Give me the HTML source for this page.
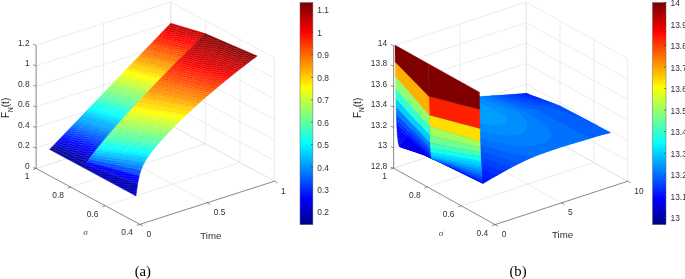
<!DOCTYPE html><html><head><meta charset="utf-8"><style>html,body{margin:0;padding:0;background:#fff;}svg{display:block;will-change:transform;font-family:"Liberation Sans",sans-serif;}</style></head><body><svg width="685" height="279" viewBox="0 0 685 279"><rect width="685" height="279" fill="#fff"/>
<line x1="36.11" y1="168.47" x2="170.78" y2="125.27" stroke="#d6d6d6" stroke-width="0.45"/>
<line x1="274.50" y1="181.17" x2="170.78" y2="125.27" stroke="#d6d6d6" stroke-width="0.45"/>
<line x1="36.11" y1="147.92" x2="170.78" y2="104.72" stroke="#d6d6d6" stroke-width="0.45"/>
<line x1="274.50" y1="160.62" x2="170.78" y2="104.72" stroke="#d6d6d6" stroke-width="0.45"/>
<line x1="36.11" y1="127.37" x2="170.78" y2="84.17" stroke="#d6d6d6" stroke-width="0.45"/>
<line x1="274.50" y1="140.07" x2="170.78" y2="84.17" stroke="#d6d6d6" stroke-width="0.45"/>
<line x1="36.11" y1="106.82" x2="170.78" y2="63.62" stroke="#d6d6d6" stroke-width="0.45"/>
<line x1="274.50" y1="119.52" x2="170.78" y2="63.62" stroke="#d6d6d6" stroke-width="0.45"/>
<line x1="36.11" y1="86.27" x2="170.78" y2="43.07" stroke="#d6d6d6" stroke-width="0.45"/>
<line x1="274.50" y1="98.97" x2="170.78" y2="43.07" stroke="#d6d6d6" stroke-width="0.45"/>
<line x1="36.11" y1="65.72" x2="170.78" y2="22.52" stroke="#d6d6d6" stroke-width="0.45"/>
<line x1="274.50" y1="78.42" x2="170.78" y2="22.52" stroke="#d6d6d6" stroke-width="0.45"/>
<line x1="36.11" y1="45.17" x2="170.78" y2="1.97" stroke="#d6d6d6" stroke-width="0.45"/>
<line x1="274.50" y1="57.87" x2="170.78" y2="1.97" stroke="#d6d6d6" stroke-width="0.45"/>
<line x1="36.11" y1="168.47" x2="36.11" y2="45.17" stroke="#d6d6d6" stroke-width="0.45"/>
<line x1="139.83" y1="224.37" x2="36.11" y2="168.47" stroke="#d6d6d6" stroke-width="0.45"/>
<line x1="103.44" y1="146.87" x2="103.44" y2="23.57" stroke="#d6d6d6" stroke-width="0.45"/>
<line x1="207.17" y1="202.77" x2="103.44" y2="146.87" stroke="#d6d6d6" stroke-width="0.45"/>
<line x1="170.78" y1="125.27" x2="170.78" y2="1.97" stroke="#d6d6d6" stroke-width="0.45"/>
<line x1="274.50" y1="181.17" x2="170.78" y2="125.27" stroke="#d6d6d6" stroke-width="0.45"/>
<line x1="274.50" y1="181.17" x2="274.50" y2="57.87" stroke="#d6d6d6" stroke-width="0.45"/>
<line x1="139.83" y1="224.37" x2="274.50" y2="181.17" stroke="#d6d6d6" stroke-width="0.45"/>
<line x1="239.93" y1="162.54" x2="239.93" y2="39.24" stroke="#d6d6d6" stroke-width="0.45"/>
<line x1="105.26" y1="205.74" x2="239.93" y2="162.54" stroke="#d6d6d6" stroke-width="0.45"/>
<line x1="205.35" y1="143.90" x2="205.35" y2="20.60" stroke="#d6d6d6" stroke-width="0.45"/>
<line x1="70.68" y1="187.10" x2="205.35" y2="143.90" stroke="#d6d6d6" stroke-width="0.45"/>
<line x1="170.78" y1="125.27" x2="170.78" y2="1.97" stroke="#d6d6d6" stroke-width="0.45"/>
<line x1="36.11" y1="168.47" x2="170.78" y2="125.27" stroke="#d6d6d6" stroke-width="0.45"/>
<polygon points="203.67,35.23 169.10,24.89 170.78,23.13 205.35,33.58" fill="#bf0000" stroke="#bf0000" stroke-width="0.35"/>
<polygon points="201.99,36.88 167.41,26.64 169.10,24.89 203.67,35.23" fill="#cf0000" stroke="#cf0000" stroke-width="0.35"/>
<polygon points="200.30,38.53 165.73,28.40 167.41,26.64 201.99,36.88" fill="#cf0000" stroke="#cf0000" stroke-width="0.35"/>
<polygon points="198.62,40.18 164.05,30.15 165.73,28.40 200.30,38.53" fill="#df0000" stroke="#df0000" stroke-width="0.35"/>
<polygon points="196.94,41.83 162.36,31.90 164.05,30.15 198.62,40.18" fill="#ef0000" stroke="#ef0000" stroke-width="0.35"/>
<polygon points="195.25,43.49 160.68,33.66 162.36,31.90 196.94,41.83" fill="#ff0000" stroke="#ff0000" stroke-width="0.35"/>
<polygon points="193.57,45.16 159.00,35.41 160.68,33.66 195.25,43.49" fill="#ff0000" stroke="#ff0000" stroke-width="0.35"/>
<polygon points="191.89,46.82 157.31,37.17 159.00,35.41 193.57,45.16" fill="#ff1000" stroke="#ff1000" stroke-width="0.35"/>
<polygon points="190.20,48.49 155.63,38.92 157.31,37.17 191.89,46.82" fill="#ff2000" stroke="#ff2000" stroke-width="0.35"/>
<polygon points="188.52,50.16 153.95,40.68 155.63,38.92 190.20,48.49" fill="#ff2000" stroke="#ff2000" stroke-width="0.35"/>
<polygon points="186.84,51.84 152.26,42.43 153.95,40.68 188.52,50.16" fill="#ff3000" stroke="#ff3000" stroke-width="0.35"/>
<polygon points="185.15,53.51 150.58,44.19 152.26,42.43 186.84,51.84" fill="#ff4000" stroke="#ff4000" stroke-width="0.35"/>
<polygon points="183.47,55.19 148.90,45.94 150.58,44.19 185.15,53.51" fill="#ff5000" stroke="#ff5000" stroke-width="0.35"/>
<polygon points="181.79,56.88 147.21,47.70 148.90,45.94 183.47,55.19" fill="#ff5000" stroke="#ff5000" stroke-width="0.35"/>
<polygon points="180.10,58.57 145.53,49.45 147.21,47.70 181.79,56.88" fill="#ff6000" stroke="#ff6000" stroke-width="0.35"/>
<polygon points="178.42,60.26 143.85,51.20 145.53,49.45 180.10,58.57" fill="#ff7000" stroke="#ff7000" stroke-width="0.35"/>
<polygon points="176.74,61.95 142.16,52.96 143.85,51.20 178.42,60.26" fill="#ff7000" stroke="#ff7000" stroke-width="0.35"/>
<polygon points="175.05,63.65 140.48,54.71 142.16,52.96 176.74,61.95" fill="#ff8000" stroke="#ff8000" stroke-width="0.35"/>
<polygon points="173.37,65.36 138.79,56.47 140.48,54.71 175.05,63.65" fill="#ff8f00" stroke="#ff8f00" stroke-width="0.35"/>
<polygon points="171.69,67.06 137.11,58.22 138.79,56.47 173.37,65.36" fill="#ff9f00" stroke="#ff9f00" stroke-width="0.35"/>
<polygon points="170.00,68.77 135.43,59.98 137.11,58.22 171.69,67.06" fill="#ff9f00" stroke="#ff9f00" stroke-width="0.35"/>
<polygon points="168.32,70.49 133.74,61.73 135.43,59.98 170.00,68.77" fill="#ffaf00" stroke="#ffaf00" stroke-width="0.35"/>
<polygon points="166.64,72.21 132.06,63.49 133.74,61.73 168.32,70.49" fill="#ffbf00" stroke="#ffbf00" stroke-width="0.35"/>
<polygon points="164.95,73.93 130.38,65.24 132.06,63.49 166.64,72.21" fill="#ffcf00" stroke="#ffcf00" stroke-width="0.35"/>
<polygon points="163.27,75.66 128.69,67.00 130.38,65.24 164.95,73.93" fill="#ffcf00" stroke="#ffcf00" stroke-width="0.35"/>
<polygon points="161.59,77.39 127.01,68.75 128.69,67.00 163.27,75.66" fill="#ffdf00" stroke="#ffdf00" stroke-width="0.35"/>
<polygon points="159.90,79.12 125.33,70.50 127.01,68.75 161.59,77.39" fill="#ffef00" stroke="#ffef00" stroke-width="0.35"/>
<polygon points="158.22,80.86 123.64,72.26 125.33,70.50 159.90,79.12" fill="#ffff00" stroke="#ffff00" stroke-width="0.35"/>
<polygon points="156.54,82.61 121.96,74.01 123.64,72.26 158.22,80.86" fill="#ffff00" stroke="#ffff00" stroke-width="0.35"/>
<polygon points="154.85,84.36 120.28,75.77 121.96,74.01 156.54,82.61" fill="#efff10" stroke="#efff10" stroke-width="0.35"/>
<polygon points="153.17,86.11 118.59,77.52 120.28,75.77 154.85,84.36" fill="#dfff20" stroke="#dfff20" stroke-width="0.35"/>
<polygon points="151.49,87.87 116.91,79.28 118.59,77.52 153.17,86.11" fill="#cfff30" stroke="#cfff30" stroke-width="0.35"/>
<polygon points="149.80,89.64 115.23,81.03 116.91,79.28 151.49,87.87" fill="#cfff30" stroke="#cfff30" stroke-width="0.35"/>
<polygon points="148.12,91.41 113.54,82.79 115.23,81.03 149.80,89.64" fill="#bfff40" stroke="#bfff40" stroke-width="0.35"/>
<polygon points="146.43,93.18 111.86,84.54 113.54,82.79 148.12,91.41" fill="#afff50" stroke="#afff50" stroke-width="0.35"/>
<polygon points="144.75,94.96 110.18,86.29 111.86,84.54 146.43,93.18" fill="#9fff60" stroke="#9fff60" stroke-width="0.35"/>
<polygon points="143.07,96.75 108.49,88.05 110.18,86.29 144.75,94.96" fill="#8fff70" stroke="#8fff70" stroke-width="0.35"/>
<polygon points="141.38,98.54 106.81,89.80 108.49,88.05 143.07,96.75" fill="#8fff70" stroke="#8fff70" stroke-width="0.35"/>
<polygon points="139.70,100.34 105.13,91.56 106.81,89.80 141.38,98.54" fill="#80ff80" stroke="#80ff80" stroke-width="0.35"/>
<polygon points="138.02,102.14 103.44,93.31 105.13,91.56 139.70,100.34" fill="#70ff8f" stroke="#70ff8f" stroke-width="0.35"/>
<polygon points="136.33,103.95 101.76,95.07 103.44,93.31 138.02,102.14" fill="#60ff9f" stroke="#60ff9f" stroke-width="0.35"/>
<polygon points="134.65,105.77 100.08,96.82 101.76,95.07 136.33,103.95" fill="#60ff9f" stroke="#60ff9f" stroke-width="0.35"/>
<polygon points="132.97,107.59 98.39,98.58 100.08,96.82 134.65,105.77" fill="#50ffaf" stroke="#50ffaf" stroke-width="0.35"/>
<polygon points="131.28,109.42 96.71,100.33 98.39,98.58 132.97,107.59" fill="#40ffbf" stroke="#40ffbf" stroke-width="0.35"/>
<polygon points="255.53,57.18 203.67,35.23 205.35,33.58 257.22,55.91" fill="#800000" stroke="#800000" stroke-width="0.35"/>
<polygon points="129.60,111.26 95.03,102.09 96.71,100.33 131.28,109.42" fill="#30ffcf" stroke="#30ffcf" stroke-width="0.35"/>
<polygon points="253.85,58.45 201.99,36.88 203.67,35.23 255.53,57.18" fill="#8f0000" stroke="#8f0000" stroke-width="0.35"/>
<polygon points="127.92,113.11 93.34,103.84 95.03,102.09 129.60,111.26" fill="#20ffdf" stroke="#20ffdf" stroke-width="0.35"/>
<polygon points="252.17,59.73 200.30,38.53 201.99,36.88 253.85,58.45" fill="#8f0000" stroke="#8f0000" stroke-width="0.35"/>
<polygon points="126.23,114.96 91.66,105.59 93.34,103.84 127.92,113.11" fill="#10ffef" stroke="#10ffef" stroke-width="0.35"/>
<polygon points="250.48,61.01 198.62,40.18 200.30,38.53 252.17,59.73" fill="#9f0000" stroke="#9f0000" stroke-width="0.35"/>
<polygon points="124.55,116.82 89.98,107.35 91.66,105.59 126.23,114.96" fill="#10ffef" stroke="#10ffef" stroke-width="0.35"/>
<polygon points="248.80,62.29 196.94,41.83 198.62,40.18 250.48,61.01" fill="#9f0000" stroke="#9f0000" stroke-width="0.35"/>
<polygon points="122.87,118.69 88.29,109.10 89.98,107.35 124.55,116.82" fill="#00ffff" stroke="#00ffff" stroke-width="0.35"/>
<polygon points="247.12,63.58 195.25,43.49 196.94,41.83 248.80,62.29" fill="#af0000" stroke="#af0000" stroke-width="0.35"/>
<polygon points="121.18,120.57 86.61,110.86 88.29,109.10 122.87,118.69" fill="#00efff" stroke="#00efff" stroke-width="0.35"/>
<polygon points="245.43,64.88 193.57,45.16 195.25,43.49 247.12,63.58" fill="#af0000" stroke="#af0000" stroke-width="0.35"/>
<polygon points="119.50,122.45 84.92,112.61 86.61,110.86 121.18,120.57" fill="#00dfff" stroke="#00dfff" stroke-width="0.35"/>
<polygon points="243.75,66.18 191.89,46.82 193.57,45.16 245.43,64.88" fill="#bf0000" stroke="#bf0000" stroke-width="0.35"/>
<polygon points="117.82,124.35 83.24,114.37 84.92,112.61 119.50,122.45" fill="#00cfff" stroke="#00cfff" stroke-width="0.35"/>
<polygon points="242.07,67.49 190.20,48.49 191.89,46.82 243.75,66.18" fill="#bf0000" stroke="#bf0000" stroke-width="0.35"/>
<polygon points="116.13,126.26 81.56,116.12 83.24,114.37 117.82,124.35" fill="#00bfff" stroke="#00bfff" stroke-width="0.35"/>
<polygon points="240.38,68.80 188.52,50.16 190.20,48.49 242.07,67.49" fill="#cf0000" stroke="#cf0000" stroke-width="0.35"/>
<polygon points="114.45,128.17 79.87,117.88 81.56,116.12 116.13,126.26" fill="#00afff" stroke="#00afff" stroke-width="0.35"/>
<polygon points="238.70,70.12 186.84,51.84 188.52,50.16 240.38,68.80" fill="#cf0000" stroke="#cf0000" stroke-width="0.35"/>
<polygon points="112.77,130.10 78.19,119.63 79.87,117.88 114.45,128.17" fill="#00afff" stroke="#00afff" stroke-width="0.35"/>
<polygon points="237.02,71.44 185.15,53.51 186.84,51.84 238.70,70.12" fill="#cf0000" stroke="#cf0000" stroke-width="0.35"/>
<polygon points="111.08,132.04 76.51,121.38 78.19,119.63 112.77,130.10" fill="#009fff" stroke="#009fff" stroke-width="0.35"/>
<polygon points="235.33,72.77 183.47,55.19 185.15,53.51 237.02,71.44" fill="#df0000" stroke="#df0000" stroke-width="0.35"/>
<polygon points="109.40,133.99 74.82,123.14 76.51,121.38 111.08,132.04" fill="#008fff" stroke="#008fff" stroke-width="0.35"/>
<polygon points="233.65,74.10 181.79,56.88 183.47,55.19 235.33,72.77" fill="#df0000" stroke="#df0000" stroke-width="0.35"/>
<polygon points="107.72,135.95 73.14,124.89 74.82,123.14 109.40,133.99" fill="#0080ff" stroke="#0080ff" stroke-width="0.35"/>
<polygon points="231.97,75.45 180.10,58.57 181.79,56.88 233.65,74.10" fill="#ef0000" stroke="#ef0000" stroke-width="0.35"/>
<polygon points="106.03,137.92 71.46,126.65 73.14,124.89 107.72,135.95" fill="#0070ff" stroke="#0070ff" stroke-width="0.35"/>
<polygon points="230.28,76.79 178.42,60.26 180.10,58.57 231.97,75.45" fill="#ef0000" stroke="#ef0000" stroke-width="0.35"/>
<polygon points="104.35,139.91 69.77,128.40 71.46,126.65 106.03,137.92" fill="#0060ff" stroke="#0060ff" stroke-width="0.35"/>
<polygon points="228.60,78.15 176.74,61.95 178.42,60.26 230.28,76.79" fill="#ff0000" stroke="#ff0000" stroke-width="0.35"/>
<polygon points="102.67,141.92 68.09,130.16 69.77,128.40 104.35,139.91" fill="#0050ff" stroke="#0050ff" stroke-width="0.35"/>
<polygon points="226.92,79.51 175.05,63.65 176.74,61.95 228.60,78.15" fill="#ff1000" stroke="#ff1000" stroke-width="0.35"/>
<polygon points="100.98,143.94 66.41,131.91 68.09,130.16 102.67,141.92" fill="#0040ff" stroke="#0040ff" stroke-width="0.35"/>
<polygon points="225.23,80.87 173.37,65.36 175.05,63.65 226.92,79.51" fill="#ff1000" stroke="#ff1000" stroke-width="0.35"/>
<polygon points="99.30,145.99 64.72,133.67 66.41,131.91 100.98,143.94" fill="#0030ff" stroke="#0030ff" stroke-width="0.35"/>
<polygon points="223.55,82.25 171.69,67.06 173.37,65.36 225.23,80.87" fill="#ff2000" stroke="#ff2000" stroke-width="0.35"/>
<polygon points="97.62,148.05 63.04,135.42 64.72,133.67 99.30,145.99" fill="#0020ff" stroke="#0020ff" stroke-width="0.35"/>
<polygon points="221.87,83.63 170.00,68.77 171.69,67.06 223.55,82.25" fill="#ff2000" stroke="#ff2000" stroke-width="0.35"/>
<polygon points="95.93,150.15 61.36,137.18 63.04,135.42 97.62,148.05" fill="#0010ff" stroke="#0010ff" stroke-width="0.35"/>
<polygon points="220.18,85.01 168.32,70.49 170.00,68.77 221.87,83.63" fill="#ff3000" stroke="#ff3000" stroke-width="0.35"/>
<polygon points="94.25,152.28 59.67,138.93 61.36,137.18 95.93,150.15" fill="#0000ff" stroke="#0000ff" stroke-width="0.35"/>
<polygon points="218.50,86.41 166.64,72.21 168.32,70.49 220.18,85.01" fill="#ff3000" stroke="#ff3000" stroke-width="0.35"/>
<polygon points="92.56,154.46 57.99,140.68 59.67,138.93 94.25,152.28" fill="#0000ef" stroke="#0000ef" stroke-width="0.35"/>
<polygon points="216.82,87.81 164.95,73.93 166.64,72.21 218.50,86.41" fill="#ff4000" stroke="#ff4000" stroke-width="0.35"/>
<polygon points="90.88,156.73 56.31,142.44 57.99,140.68 92.56,154.46" fill="#0000df" stroke="#0000df" stroke-width="0.35"/>
<polygon points="215.13,89.22 163.27,75.66 164.95,73.93 216.82,87.81" fill="#ff4000" stroke="#ff4000" stroke-width="0.35"/>
<polygon points="89.20,159.11 54.62,144.19 56.31,142.44 90.88,156.73" fill="#0000cf" stroke="#0000cf" stroke-width="0.35"/>
<polygon points="213.45,90.64 161.59,77.39 163.27,75.66 215.13,89.22" fill="#ff5000" stroke="#ff5000" stroke-width="0.35"/>
<polygon points="87.51,161.70 52.94,145.95 54.62,144.19 89.20,159.11" fill="#0000bf" stroke="#0000bf" stroke-width="0.35"/>
<polygon points="211.76,92.06 159.90,79.12 161.59,77.39 213.45,90.64" fill="#ff5000" stroke="#ff5000" stroke-width="0.35"/>
<polygon points="85.83,164.61 51.26,147.70 52.94,145.95 87.51,161.70" fill="#00009f" stroke="#00009f" stroke-width="0.35"/>
<polygon points="210.08,93.50 158.22,80.86 159.90,79.12 211.76,92.06" fill="#ff6000" stroke="#ff6000" stroke-width="0.35"/>
<polygon points="84.15,168.09 49.57,149.46 51.26,147.70 85.83,164.61" fill="#0000a0" stroke="#0000a0" stroke-width="0.35"/>
<polygon points="208.40,94.94 156.54,82.61 158.22,80.86 210.08,93.50" fill="#ff7000" stroke="#ff7000" stroke-width="0.35"/>
<polygon points="206.71,96.39 154.85,84.36 156.54,82.61 208.40,94.94" fill="#ff7000" stroke="#ff7000" stroke-width="0.35"/>
<polygon points="205.03,97.86 153.17,86.11 154.85,84.36 206.71,96.39" fill="#ff8000" stroke="#ff8000" stroke-width="0.35"/>
<polygon points="203.35,99.33 151.49,87.87 153.17,86.11 205.03,97.86" fill="#ff8000" stroke="#ff8000" stroke-width="0.35"/>
<polygon points="201.66,100.81 149.80,89.64 151.49,87.87 203.35,99.33" fill="#ff8f00" stroke="#ff8f00" stroke-width="0.35"/>
<polygon points="199.98,102.30 148.12,91.41 149.80,89.64 201.66,100.81" fill="#ff8f00" stroke="#ff8f00" stroke-width="0.35"/>
<polygon points="198.30,103.80 146.43,93.18 148.12,91.41 199.98,102.30" fill="#ff9f00" stroke="#ff9f00" stroke-width="0.35"/>
<polygon points="196.61,105.31 144.75,94.96 146.43,93.18 198.30,103.80" fill="#ffaf00" stroke="#ffaf00" stroke-width="0.35"/>
<polygon points="194.93,106.83 143.07,96.75 144.75,94.96 196.61,105.31" fill="#ffaf00" stroke="#ffaf00" stroke-width="0.35"/>
<polygon points="193.25,108.37 141.38,98.54 143.07,96.75 194.93,106.83" fill="#ffbf00" stroke="#ffbf00" stroke-width="0.35"/>
<polygon points="191.56,109.91 139.70,100.34 141.38,98.54 193.25,108.37" fill="#ffcf00" stroke="#ffcf00" stroke-width="0.35"/>
<polygon points="189.88,111.47 138.02,102.14 139.70,100.34 191.56,109.91" fill="#ffcf00" stroke="#ffcf00" stroke-width="0.35"/>
<polygon points="188.20,113.04 136.33,103.95 138.02,102.14 189.88,111.47" fill="#ffdf00" stroke="#ffdf00" stroke-width="0.35"/>
<polygon points="186.51,114.63 134.65,105.77 136.33,103.95 188.20,113.04" fill="#ffdf00" stroke="#ffdf00" stroke-width="0.35"/>
<polygon points="184.83,116.22 132.97,107.59 134.65,105.77 186.51,114.63" fill="#ffef00" stroke="#ffef00" stroke-width="0.35"/>
<polygon points="183.15,117.84 131.28,109.42 132.97,107.59 184.83,116.22" fill="#ffff00" stroke="#ffff00" stroke-width="0.35"/>
<polygon points="181.46,119.47 129.60,111.26 131.28,109.42 183.15,117.84" fill="#ffff00" stroke="#ffff00" stroke-width="0.35"/>
<polygon points="179.78,121.11 127.92,113.11 129.60,111.26 181.46,119.47" fill="#efff10" stroke="#efff10" stroke-width="0.35"/>
<polygon points="178.10,122.77 126.23,114.96 127.92,113.11 179.78,121.11" fill="#dfff20" stroke="#dfff20" stroke-width="0.35"/>
<polygon points="176.41,124.45 124.55,116.82 126.23,114.96 178.10,122.77" fill="#cfff30" stroke="#cfff30" stroke-width="0.35"/>
<polygon points="174.73,126.14 122.87,118.69 124.55,116.82 176.41,124.45" fill="#cfff30" stroke="#cfff30" stroke-width="0.35"/>
<polygon points="173.05,127.85 121.18,120.57 122.87,118.69 174.73,126.14" fill="#bfff40" stroke="#bfff40" stroke-width="0.35"/>
<polygon points="171.36,129.59 119.50,122.45 121.18,120.57 173.05,127.85" fill="#afff50" stroke="#afff50" stroke-width="0.35"/>
<polygon points="169.68,131.34 117.82,124.35 119.50,122.45 171.36,129.59" fill="#9fff60" stroke="#9fff60" stroke-width="0.35"/>
<polygon points="168.00,133.12 116.13,126.26 117.82,124.35 169.68,131.34" fill="#9fff60" stroke="#9fff60" stroke-width="0.35"/>
<polygon points="166.31,134.92 114.45,128.17 116.13,126.26 168.00,133.12" fill="#8fff70" stroke="#8fff70" stroke-width="0.35"/>
<polygon points="164.63,136.74 112.77,130.10 114.45,128.17 166.31,134.92" fill="#80ff80" stroke="#80ff80" stroke-width="0.35"/>
<polygon points="162.95,138.59 111.08,132.04 112.77,130.10 164.63,136.74" fill="#70ff8f" stroke="#70ff8f" stroke-width="0.35"/>
<polygon points="161.26,140.47 109.40,133.99 111.08,132.04 162.95,138.59" fill="#60ff9f" stroke="#60ff9f" stroke-width="0.35"/>
<polygon points="159.58,142.38 107.72,135.95 109.40,133.99 161.26,140.47" fill="#60ff9f" stroke="#60ff9f" stroke-width="0.35"/>
<polygon points="157.89,144.32 106.03,137.92 107.72,135.95 159.58,142.38" fill="#50ffaf" stroke="#50ffaf" stroke-width="0.35"/>
<polygon points="156.21,146.31 104.35,139.91 106.03,137.92 157.89,144.32" fill="#40ffbf" stroke="#40ffbf" stroke-width="0.35"/>
<polygon points="154.53,148.33 102.67,141.92 104.35,139.91 156.21,146.31" fill="#30ffcf" stroke="#30ffcf" stroke-width="0.35"/>
<polygon points="152.84,150.41 100.98,143.94 102.67,141.92 154.53,148.33" fill="#20ffdf" stroke="#20ffdf" stroke-width="0.35"/>
<polygon points="151.16,152.56 99.30,145.99 100.98,143.94 152.84,150.41" fill="#10ffef" stroke="#10ffef" stroke-width="0.35"/>
<polygon points="149.48,154.80 97.62,148.05 99.30,145.99 151.16,152.56" fill="#00ffff" stroke="#00ffff" stroke-width="0.35"/>
<polygon points="147.79,157.16 95.93,150.15 97.62,148.05 149.48,154.80" fill="#00efff" stroke="#00efff" stroke-width="0.35"/>
<polygon points="146.11,159.72 94.25,152.28 95.93,150.15 147.79,157.16" fill="#00cfff" stroke="#00cfff" stroke-width="0.35"/>
<polygon points="144.43,162.58 92.56,154.46 94.25,152.28 146.11,159.72" fill="#00bfff" stroke="#00bfff" stroke-width="0.35"/>
<polygon points="142.74,165.93 90.88,156.73 92.56,154.46 144.43,162.58" fill="#009fff" stroke="#009fff" stroke-width="0.35"/>
<polygon points="141.06,170.12 89.20,159.11 90.88,156.73 142.74,165.93" fill="#0080ff" stroke="#0080ff" stroke-width="0.35"/>
<polygon points="139.38,175.71 87.51,161.70 89.20,159.11 141.06,170.12" fill="#0050ff" stroke="#0050ff" stroke-width="0.35"/>
<polygon points="137.69,183.75 85.83,164.61 87.51,161.70 139.38,175.71" fill="#0000ff" stroke="#0000ff" stroke-width="0.35"/>
<polygon points="136.01,196.04 84.15,168.09 85.83,164.61 137.69,183.75" fill="#0000b8" stroke="#0000b8" stroke-width="0.35"/>
<defs><clipPath id="clA"><polygon points="136.01,196.04 137.69,183.75 139.38,175.71 141.06,170.12 142.74,165.93 144.43,162.58 146.11,159.72 147.79,157.16 149.48,154.80 151.16,152.56 152.84,150.41 154.53,148.33 156.21,146.31 157.89,144.32 159.58,142.38 161.26,140.47 162.95,138.59 164.63,136.74 166.31,134.92 168.00,133.12 169.68,131.34 171.36,129.59 173.05,127.85 174.73,126.14 176.41,124.45 178.10,122.77 179.78,121.11 181.46,119.47 183.15,117.84 184.83,116.22 186.51,114.63 188.20,113.04 189.88,111.47 191.56,109.91 193.25,108.37 194.93,106.83 196.61,105.31 198.30,103.80 199.98,102.30 201.66,100.81 203.35,99.33 205.03,97.86 206.71,96.39 208.40,94.94 210.08,93.50 211.76,92.06 213.45,90.64 215.13,89.22 216.82,87.81 218.50,86.41 220.18,85.01 221.87,83.63 223.55,82.25 225.23,80.87 226.92,79.51 228.60,78.15 230.28,76.79 231.97,75.45 233.65,74.10 235.33,72.77 237.02,71.44 238.70,70.12 240.38,68.80 242.07,67.49 243.75,66.18 245.43,64.88 247.12,63.58 248.80,62.29 250.48,61.01 252.17,59.73 253.85,58.45 255.53,57.18 257.22,55.91 205.35,33.58 170.78,23.13 170.78,23.13 169.10,24.89 167.41,26.64 165.73,28.40 164.05,30.15 162.36,31.90 160.68,33.66 159.00,35.41 157.31,37.17 155.63,38.92 153.95,40.68 152.26,42.43 150.58,44.19 148.90,45.94 147.21,47.70 145.53,49.45 143.85,51.20 142.16,52.96 140.48,54.71 138.79,56.47 137.11,58.22 135.43,59.98 133.74,61.73 132.06,63.49 130.38,65.24 128.69,67.00 127.01,68.75 125.33,70.50 123.64,72.26 121.96,74.01 120.28,75.77 118.59,77.52 116.91,79.28 115.23,81.03 113.54,82.79 111.86,84.54 110.18,86.29 108.49,88.05 106.81,89.80 105.13,91.56 103.44,93.31 101.76,95.07 100.08,96.82 98.39,98.58 96.71,100.33 95.03,102.09 93.34,103.84 91.66,105.59 89.98,107.35 88.29,109.10 86.61,110.86 84.92,112.61 83.24,114.37 81.56,116.12 79.87,117.88 78.19,119.63 76.51,121.38 74.82,123.14 73.14,124.89 71.46,126.65 69.77,128.40 68.09,130.16 66.41,131.91 64.72,133.67 63.04,135.42 61.36,137.18 59.67,138.93 57.99,140.68 56.31,142.44 54.62,144.19 52.94,145.95 51.26,147.70 49.57,149.46 84.15,168.09"/></clipPath><pattern id="stA" patternUnits="userSpaceOnUse" width="40" height="2.10" patternTransform="rotate(5.0)"><rect x="0" y="0" width="40" height="0.95" fill="#fff" fill-opacity="0.10"/></pattern></defs>
<rect x="30" y="0" width="250" height="200" fill="url(#stA)" clip-path="url(#clA)"/>
<line x1="36.11" y1="168.47" x2="36.11" y2="45.17" stroke="#4a4a4a" stroke-width="0.60"/>
<line x1="139.83" y1="224.37" x2="36.11" y2="168.47" stroke="#4a4a4a" stroke-width="0.60"/>
<line x1="139.83" y1="224.37" x2="274.50" y2="181.17" stroke="#4a4a4a" stroke-width="0.60"/>
<line x1="36.11" y1="168.47" x2="33.11" y2="167.57" stroke="#4a4a4a" stroke-width="0.60"/>
<text x="29.61" y="168.88" font-size="8.40" text-anchor="end" fill="#303030">0</text>
<line x1="36.11" y1="147.92" x2="33.11" y2="147.02" stroke="#4a4a4a" stroke-width="0.60"/>
<text x="29.61" y="148.33" font-size="8.40" text-anchor="end" fill="#303030">0.2</text>
<line x1="36.11" y1="127.37" x2="33.11" y2="126.47" stroke="#4a4a4a" stroke-width="0.60"/>
<text x="29.61" y="127.78" font-size="8.40" text-anchor="end" fill="#303030">0.4</text>
<line x1="36.11" y1="106.82" x2="33.11" y2="105.92" stroke="#4a4a4a" stroke-width="0.60"/>
<text x="29.61" y="107.23" font-size="8.40" text-anchor="end" fill="#303030">0.6</text>
<line x1="36.11" y1="86.27" x2="33.11" y2="85.37" stroke="#4a4a4a" stroke-width="0.60"/>
<text x="29.61" y="86.68" font-size="8.40" text-anchor="end" fill="#303030">0.8</text>
<line x1="36.11" y1="65.72" x2="33.11" y2="64.82" stroke="#4a4a4a" stroke-width="0.60"/>
<text x="29.61" y="66.13" font-size="8.40" text-anchor="end" fill="#303030">1</text>
<line x1="36.11" y1="45.17" x2="33.11" y2="44.27" stroke="#4a4a4a" stroke-width="0.60"/>
<text x="29.61" y="45.58" font-size="8.40" text-anchor="end" fill="#303030">1.2</text>
<line x1="139.83" y1="224.37" x2="136.69" y2="225.38" stroke="#4a4a4a" stroke-width="0.60"/>
<text x="133.03" y="235.38" font-size="8.40" text-anchor="end" fill="#303030">0.4</text>
<line x1="105.26" y1="205.74" x2="102.11" y2="206.74" stroke="#4a4a4a" stroke-width="0.60"/>
<text x="98.46" y="216.74" font-size="8.40" text-anchor="end" fill="#303030">0.6</text>
<line x1="70.68" y1="187.10" x2="67.54" y2="188.11" stroke="#4a4a4a" stroke-width="0.60"/>
<text x="63.88" y="198.11" font-size="8.40" text-anchor="end" fill="#303030">0.8</text>
<line x1="36.11" y1="168.47" x2="32.96" y2="169.48" stroke="#4a4a4a" stroke-width="0.60"/>
<text x="29.31" y="179.48" font-size="8.40" text-anchor="end" fill="#303030">1</text>
<line x1="139.83" y1="224.37" x2="142.91" y2="226.03" stroke="#4a4a4a" stroke-width="0.60"/>
<text x="146.43" y="236.78" font-size="8.40" text-anchor="start" fill="#303030">0</text>
<line x1="207.17" y1="202.77" x2="210.25" y2="204.43" stroke="#4a4a4a" stroke-width="0.60"/>
<text x="213.77" y="215.18" font-size="8.40" text-anchor="start" fill="#303030">0.5</text>
<line x1="274.50" y1="181.17" x2="277.59" y2="182.83" stroke="#4a4a4a" stroke-width="0.60"/>
<text x="281.11" y="193.58" font-size="8.40" text-anchor="start" fill="#303030">1</text>
<line x1="393.64" y1="168.15" x2="526.22" y2="124.80" stroke="#d6d6d6" stroke-width="0.45"/>
<line x1="627.64" y1="181.25" x2="526.22" y2="124.80" stroke="#d6d6d6" stroke-width="0.45"/>
<line x1="393.64" y1="147.72" x2="526.22" y2="104.37" stroke="#d6d6d6" stroke-width="0.45"/>
<line x1="627.64" y1="160.82" x2="526.22" y2="104.37" stroke="#d6d6d6" stroke-width="0.45"/>
<line x1="393.64" y1="127.28" x2="526.22" y2="83.93" stroke="#d6d6d6" stroke-width="0.45"/>
<line x1="627.64" y1="140.38" x2="526.22" y2="83.93" stroke="#d6d6d6" stroke-width="0.45"/>
<line x1="393.64" y1="106.85" x2="526.22" y2="63.50" stroke="#d6d6d6" stroke-width="0.45"/>
<line x1="627.64" y1="119.95" x2="526.22" y2="63.50" stroke="#d6d6d6" stroke-width="0.45"/>
<line x1="393.64" y1="86.42" x2="526.22" y2="43.07" stroke="#d6d6d6" stroke-width="0.45"/>
<line x1="627.64" y1="99.52" x2="526.22" y2="43.07" stroke="#d6d6d6" stroke-width="0.45"/>
<line x1="393.64" y1="65.98" x2="526.22" y2="22.63" stroke="#d6d6d6" stroke-width="0.45"/>
<line x1="627.64" y1="79.08" x2="526.22" y2="22.63" stroke="#d6d6d6" stroke-width="0.45"/>
<line x1="393.64" y1="45.55" x2="526.22" y2="2.20" stroke="#d6d6d6" stroke-width="0.45"/>
<line x1="627.64" y1="58.65" x2="526.22" y2="2.20" stroke="#d6d6d6" stroke-width="0.45"/>
<line x1="393.64" y1="168.15" x2="393.64" y2="45.55" stroke="#d6d6d6" stroke-width="0.45"/>
<line x1="495.07" y1="224.60" x2="393.64" y2="168.15" stroke="#d6d6d6" stroke-width="0.45"/>
<line x1="459.93" y1="146.47" x2="459.93" y2="23.87" stroke="#d6d6d6" stroke-width="0.45"/>
<line x1="561.36" y1="202.92" x2="459.93" y2="146.47" stroke="#d6d6d6" stroke-width="0.45"/>
<line x1="526.22" y1="124.80" x2="526.22" y2="2.20" stroke="#d6d6d6" stroke-width="0.45"/>
<line x1="627.64" y1="181.25" x2="526.22" y2="124.80" stroke="#d6d6d6" stroke-width="0.45"/>
<line x1="627.64" y1="181.25" x2="627.64" y2="58.65" stroke="#d6d6d6" stroke-width="0.45"/>
<line x1="495.07" y1="224.60" x2="627.64" y2="181.25" stroke="#d6d6d6" stroke-width="0.45"/>
<line x1="593.84" y1="162.43" x2="593.84" y2="39.83" stroke="#d6d6d6" stroke-width="0.45"/>
<line x1="461.26" y1="205.78" x2="593.84" y2="162.43" stroke="#d6d6d6" stroke-width="0.45"/>
<line x1="560.03" y1="143.62" x2="560.03" y2="21.02" stroke="#d6d6d6" stroke-width="0.45"/>
<line x1="427.45" y1="186.97" x2="560.03" y2="143.62" stroke="#d6d6d6" stroke-width="0.45"/>
<line x1="526.22" y1="124.80" x2="526.22" y2="2.20" stroke="#d6d6d6" stroke-width="0.45"/>
<line x1="393.64" y1="168.15" x2="526.22" y2="124.80" stroke="#d6d6d6" stroke-width="0.45"/>
<polygon points="484.13,182.80 486.04,181.65 487.95,180.53 489.86,179.43 491.77,178.37 493.68,177.32 495.58,176.26 497.49,175.19 499.40,174.11 501.31,173.02 503.22,171.93 505.13,170.84 507.04,169.76 508.94,168.70 510.85,167.66 512.76,166.64 514.67,165.66 516.58,164.71 518.49,163.78 520.40,162.85 522.31,161.92 524.21,161.00 526.12,160.09 528.03,159.21 529.94,158.34 531.85,157.51 533.76,156.70 535.67,155.94 537.57,155.22 539.48,154.53 541.39,153.85 543.30,153.17 545.21,152.50 547.12,151.83 549.03,151.16 550.94,150.50 552.84,149.85 554.75,149.20 556.66,148.56 558.57,147.93 560.48,147.31 562.39,146.70 564.30,146.10 566.20,145.52 568.11,144.94 570.02,144.37 571.93,143.80 573.84,143.23 575.75,142.67 577.66,142.11 579.57,141.54 581.47,140.96 583.38,140.39 585.29,139.81 587.20,139.23 589.11,138.64 591.02,138.07 592.93,137.49 594.84,136.92 596.74,136.35 598.65,135.79 600.56,135.24 602.47,134.70 604.38,134.19 606.29,133.72 608.20,133.28 610.10,132.85 609.31,131.95 605.01,129.67 600.71,127.39 596.42,125.11 592.12,122.83 587.82,120.56 583.52,118.28 579.22,116.00 574.93,113.72 570.63,111.44 566.33,109.16 562.03,106.88 557.74,104.97 553.44,103.38 549.14,101.80 544.84,100.21 540.55,98.62 536.25,97.04 531.95,95.45 527.65,93.86 525.58,93.39 523.68,93.55 521.77,93.71 519.86,93.87 517.95,94.02 516.04,94.17 514.13,94.31 512.22,94.45 510.31,94.59 508.41,94.71 506.50,94.84 504.59,94.96 502.68,95.08 500.77,95.20 498.86,95.32 496.95,95.45 495.04,95.58 493.14,95.70 491.23,95.82 489.32,95.93 487.41,96.06 485.50,96.19 483.59,96.35 481.68,96.54 479.78,96.76 477.87,96.98 475.96,97.17 474.05,97.37 472.14,97.61 470.23,97.92 468.32,98.33 466.41,98.89 464.51,99.52 462.60,100.14 460.69,100.76 458.78,101.39 456.87,102.01 454.96,102.64 453.05,103.26 451.15,103.95 449.24,104.72 447.33,105.58 445.42,106.51 443.51,107.49 441.60,108.53 439.69,109.60 437.78,110.70 435.88,111.81 433.97,112.93 432.06,114.07 430.15,115.28 428.24,116.57 426.33,117.93 424.42,119.37 422.52,120.88 420.61,122.46 418.70,124.12 416.79,125.84 414.88,127.64 412.97,129.53 411.06,131.80 409.15,134.39 407.25,137.11 405.34,139.77 403.43,142.21 401.52,144.53 399.61,146.79 402.48,147.71 406.77,149.09 411.07,150.46 415.37,151.84 419.67,153.22 423.96,154.60 428.26,155.98 432.56,157.36 436.86,159.34 441.16,161.47 445.45,163.61 449.75,165.74 454.05,167.87 458.35,170.00 462.64,172.13 466.94,174.27 471.24,176.40 475.54,178.53 479.83,180.66 484.13,182.80" fill="#0060ff"/>
<path d="M403.95,148.12 L402.92,147.19 L402.41,146.73 L401.88,146.26 L400.84,145.34 L400.25,146.04 L399.61,146.79 L401.04,147.25 L402.48,147.71 L403.91,148.17 L404.05,148.21 L403.95,148.12Z" fill="#00009f" stroke="#00009f" stroke-width="0.4" stroke-linejoin="round" fill-rule="evenodd"/>
<path d="M410.03,149.55 L409.41,148.99 L409.00,148.62 L407.97,147.69 L407.76,147.50 L406.93,146.76 L406.06,146.00 L405.88,145.84 L404.84,144.92 L404.32,144.47 L403.78,144.00 L402.72,143.08 L402.16,143.76 L401.52,144.53 L400.88,145.29 L400.84,145.34 L401.88,146.26 L402.41,146.73 L402.92,147.19 L403.95,148.12 L404.05,148.21 L405.34,148.63 L406.77,149.09 L408.21,149.55 L409.64,150.01 L411.04,150.46 L410.03,149.55Z" fill="#0000af" stroke="#0000af" stroke-width="0.4" stroke-linejoin="round" fill-rule="evenodd"/>
<path d="M417.15,151.90 L416.42,151.24 L416.12,150.97 L415.09,150.04 L414.79,149.77 L414.06,149.11 L413.13,148.29 L413.02,148.19 L411.98,147.26 L411.45,146.78 L410.94,146.34 L409.89,145.41 L409.71,145.25 L408.83,144.49 L407.90,143.68 L407.77,143.58 L406.70,142.66 L405.99,142.06 L405.61,141.75 L404.52,140.84 L404.06,141.42 L403.43,142.21 L402.79,142.99 L402.72,143.08 L403.78,144.00 L404.32,144.47 L404.84,144.92 L405.88,145.84 L406.06,146.00 L406.93,146.76 L407.76,147.50 L407.97,147.69 L409.00,148.62 L409.41,148.99 L410.03,149.55 L411.04,150.46 L411.07,150.46 L412.50,150.92 L413.94,151.38 L415.37,151.84 L416.80,152.30 L418.03,152.70 L417.15,151.90Z" fill="#0000bf" stroke="#0000bf" stroke-width="0.4" stroke-linejoin="round" fill-rule="evenodd"/>
<path d="M424.27,154.25 L423.42,153.49 L423.24,153.32 L422.22,152.39 L421.82,152.03 L421.19,151.46 L420.20,150.57 L420.16,150.53 L419.13,149.60 L418.57,149.10 L418.10,148.68 L417.06,147.75 L416.90,147.61 L416.02,146.83 L415.18,146.09 L414.97,145.90 L413.91,144.98 L413.39,144.53 L412.84,144.07 L411.77,143.15 L411.47,142.90 L410.67,142.25 L409.56,141.34 L409.32,141.14 L408.44,140.45 L407.30,139.55 L406.87,139.22 L406.14,138.66 L405.97,138.90 L405.34,139.77 L404.70,140.61 L404.52,140.84 L405.61,141.75 L405.99,142.06 L406.70,142.66 L407.77,143.58 L407.90,143.68 L408.83,144.49 L409.71,145.25 L409.89,145.41 L410.94,146.34 L411.45,146.78 L411.98,147.26 L413.02,148.19 L413.13,148.29 L414.06,149.11 L414.79,149.77 L415.09,150.04 L416.12,150.97 L416.42,151.24 L417.15,151.90 L418.03,152.70 L418.23,152.76 L419.67,153.22 L421.10,153.68 L422.53,154.14 L423.96,154.60 L425.02,154.94 L424.27,154.25Z" fill="#0000cf" stroke="#0000cf" stroke-width="0.4" stroke-linejoin="round" fill-rule="evenodd"/>
<path d="M431.38,156.61 L430.43,155.74 L430.36,155.68 L429.34,154.74 L428.85,154.30 L428.32,153.81 L427.30,152.88 L427.28,152.86 L426.28,151.95 L425.69,151.42 L425.25,151.02 L424.23,150.09 L424.10,149.97 L423.20,149.16 L422.47,148.50 L422.17,148.23 L421.13,147.30 L420.80,147.01 L420.08,146.38 L419.03,145.46 L419.03,145.46 L417.95,144.55 L417.09,143.82 L416.87,143.63 L415.76,142.73 L414.93,142.05 L414.65,141.83 L413.51,140.93 L412.48,140.13 L412.37,140.04 L411.21,139.16 L410.04,138.27 L409.69,138.01 L408.85,137.39 L407.66,136.52 L407.25,137.11 L406.61,138.01 L406.14,138.66 L406.87,139.22 L407.30,139.55 L408.44,140.45 L409.32,141.14 L409.56,141.34 L410.67,142.25 L411.47,142.90 L411.77,143.15 L412.84,144.07 L413.39,144.53 L413.91,144.98 L414.97,145.90 L415.18,146.09 L416.02,146.83 L416.90,147.61 L417.06,147.75 L418.10,148.68 L418.57,149.10 L419.13,149.60 L420.16,150.53 L420.20,150.57 L421.19,151.46 L421.82,152.03 L422.22,152.39 L423.24,153.32 L423.42,153.49 L424.27,154.25 L425.02,154.94 L425.40,155.06 L426.83,155.52 L428.26,155.98 L429.69,156.44 L431.13,156.90 L432.01,157.18 L431.38,156.61Z" fill="#0000df" stroke="#0000df" stroke-width="0.4" stroke-linejoin="round" fill-rule="evenodd"/>
<path d="M454.16,167.76 L452.87,166.92 L451.57,166.08 L450.26,165.24 L448.95,164.41 L448.86,164.35 L447.63,163.57 L446.31,162.74 L444.98,161.91 L443.65,161.08 L442.31,160.25 L440.97,159.42 L440.64,159.21 L439.63,158.59 L438.28,157.77 L436.93,156.94 L435.58,156.12 L434.43,155.23 L434.35,155.15 L433.42,154.29 L432.82,153.74 L432.41,153.36 L431.40,152.42 L431.29,152.33 L430.39,151.49 L429.76,150.91 L429.37,150.55 L428.36,149.62 L428.20,149.48 L427.33,148.69 L426.59,148.02 L426.30,147.76 L425.25,146.84 L424.87,146.50 L424.19,145.92 L423.12,145.01 L422.98,144.89 L422.03,144.10 L420.92,143.19 L420.89,143.16 L419.81,142.29 L418.67,141.40 L418.53,141.29 L417.52,140.51 L416.36,139.62 L415.83,139.22 L415.18,138.74 L414.00,137.86 L412.80,136.99 L412.73,136.94 L411.60,136.11 L410.38,135.25 L409.19,134.40 L409.16,134.38 L409.15,134.39 L408.52,135.29 L407.88,136.20 L407.66,136.52 L408.85,137.39 L409.69,138.01 L410.04,138.27 L411.21,139.16 L412.37,140.04 L412.48,140.13 L413.51,140.93 L414.65,141.83 L414.93,142.05 L415.76,142.73 L416.87,143.63 L417.09,143.82 L417.95,144.55 L419.03,145.46 L419.03,145.46 L420.08,146.38 L420.80,147.01 L421.13,147.30 L422.17,148.23 L422.47,148.50 L423.20,149.16 L424.10,149.97 L424.23,150.09 L425.25,151.02 L425.69,151.42 L426.28,151.95 L427.28,152.86 L427.30,152.88 L428.32,153.81 L428.85,154.30 L429.34,154.74 L430.36,155.68 L430.43,155.74 L431.38,156.61 L432.01,157.18 L432.56,157.36 L433.99,157.92 L435.42,158.63 L436.86,159.34 L438.29,160.05 L439.72,160.76 L441.16,161.47 L442.59,162.18 L444.02,162.89 L445.45,163.61 L446.89,164.32 L448.32,165.03 L449.75,165.74 L451.18,166.45 L452.62,167.16 L454.05,167.87 L455.18,168.43 L454.16,167.76Z" fill="#0000ef" stroke="#0000ef" stroke-width="0.4" stroke-linejoin="round" fill-rule="evenodd"/>
<path d="M481.50,181.23 L480.32,180.35 L479.57,179.80 L479.12,179.47 L477.91,178.60 L476.67,177.74 L475.75,177.11 L475.42,176.88 L474.16,176.03 L472.89,175.18 L471.60,174.34 L470.54,173.65 L470.31,173.49 L469.00,172.65 L467.69,171.82 L466.37,170.98 L465.05,170.15 L463.72,169.32 L463.19,168.99 L462.38,168.49 L461.04,167.66 L459.69,166.84 L458.34,166.01 L456.99,165.19 L455.63,164.37 L454.27,163.55 L452.90,162.73 L452.34,162.39 L451.54,161.91 L450.17,161.09 L448.80,160.28 L447.42,159.46 L446.04,158.64 L444.66,157.83 L443.28,157.02 L441.90,156.20 L440.51,155.39 L439.12,154.58 L437.73,153.77 L437.42,153.48 L436.58,152.88 L435.60,151.95 L435.59,151.94 L434.59,151.00 L434.15,150.58 L433.59,150.06 L432.64,149.18 L432.58,149.12 L431.56,148.19 L431.04,147.72 L430.52,147.26 L429.47,146.34 L429.30,146.20 L428.40,145.43 L427.38,144.56 L427.32,144.52 L426.22,143.61 L425.18,142.78 L425.10,142.71 L423.96,141.82 L422.81,140.93 L422.66,140.81 L421.65,140.04 L420.47,139.16 L419.77,138.64 L419.28,138.28 L418.09,137.41 L416.88,136.54 L416.47,136.24 L415.67,135.67 L414.45,134.80 L413.22,133.94 L412.74,133.61 L411.98,133.07 L410.75,132.21 L410.43,132.63 L409.79,133.50 L409.16,134.38 L409.19,134.40 L410.38,135.25 L411.60,136.11 L412.73,136.94 L412.80,136.99 L414.00,137.86 L415.18,138.74 L415.83,139.22 L416.36,139.62 L417.52,140.51 L418.53,141.29 L418.67,141.40 L419.81,142.29 L420.89,143.16 L420.92,143.19 L422.03,144.10 L422.98,144.89 L423.12,145.01 L424.19,145.92 L424.87,146.50 L425.25,146.84 L426.30,147.76 L426.59,148.02 L427.33,148.69 L428.20,149.48 L428.36,149.62 L429.37,150.55 L429.76,150.91 L430.39,151.49 L431.29,152.33 L431.40,152.42 L432.41,153.36 L432.82,153.74 L433.42,154.29 L434.35,155.15 L434.43,155.23 L435.58,156.12 L436.93,156.94 L438.28,157.77 L439.63,158.59 L440.64,159.21 L440.97,159.42 L442.31,160.25 L443.65,161.08 L444.98,161.91 L446.31,162.74 L447.63,163.57 L448.86,164.35 L448.95,164.41 L450.26,165.24 L451.57,166.08 L452.87,166.92 L454.16,167.76 L455.18,168.43 L455.48,168.58 L456.91,169.29 L458.35,170.00 L459.78,170.71 L461.21,171.42 L462.64,172.13 L464.08,172.84 L465.51,173.56 L466.94,174.27 L468.37,174.98 L469.81,175.69 L471.24,176.40 L472.67,177.11 L474.10,177.82 L475.54,178.53 L476.97,179.24 L478.40,179.95 L479.83,180.66 L481.27,181.37 L482.44,181.96 L481.50,181.23Z" fill="#0000ff" stroke="#0000ff" stroke-width="0.4" stroke-linejoin="round" fill-rule="evenodd"/>
<path d="M484.77,182.41 L485.40,182.03 L486.04,181.65 L486.68,181.27 L487.31,180.90 L487.95,180.53 L488.59,180.16 L489.22,179.80 L489.86,179.43 L490.10,179.30 L488.68,178.50 L487.26,177.70 L485.84,176.89 L484.42,176.09 L482.99,175.29 L481.57,174.49 L480.14,173.69 L478.72,172.89 L477.29,172.09 L475.87,171.29 L474.44,170.50 L473.01,169.70 L471.58,168.90 L470.16,168.10 L468.73,167.30 L467.30,166.50 L465.87,165.70 L464.44,164.90 L463.01,164.10 L461.59,163.31 L460.16,162.51 L458.73,161.71 L457.30,160.91 L455.87,160.11 L454.44,159.31 L453.01,158.52 L451.58,157.72 L450.15,156.92 L448.72,156.12 L447.29,155.32 L445.86,154.53 L444.43,153.73 L443.00,152.93 L441.56,152.13 L440.13,151.33 L439.20,150.60 L438.98,150.45 L438.00,149.50 L437.71,149.23 L437.01,148.56 L436.22,147.84 L435.99,147.63 L434.95,146.70 L434.53,146.34 L433.89,145.78 L432.81,144.87 L432.59,144.69 L431.70,143.97 L430.58,143.07 L430.35,142.89 L429.45,142.17 L428.29,141.28 L427.78,140.89 L427.13,140.40 L425.96,139.51 L424.85,138.70 L424.77,138.64 L423.58,137.76 L422.37,136.89 L421.55,136.30 L421.16,136.02 L419.95,135.15 L418.73,134.28 L417.92,133.72 L417.50,133.42 L416.28,132.55 L415.04,131.69 L414.04,130.99 L413.81,130.83 L412.58,129.96 L412.34,130.24 L411.70,131.00 L411.06,131.80 L410.75,132.21 L411.98,133.07 L412.74,133.61 L413.22,133.94 L414.45,134.80 L415.67,135.67 L416.47,136.24 L416.88,136.54 L418.09,137.41 L419.28,138.28 L419.77,138.64 L420.47,139.16 L421.65,140.04 L422.66,140.81 L422.81,140.93 L423.96,141.82 L425.10,142.71 L425.18,142.78 L426.22,143.61 L427.32,144.52 L427.38,144.56 L428.40,145.43 L429.30,146.20 L429.47,146.34 L430.52,147.26 L431.04,147.72 L431.56,148.19 L432.58,149.12 L432.64,149.18 L433.59,150.06 L434.15,150.58 L434.59,151.00 L435.59,151.94 L435.60,151.95 L436.58,152.88 L437.42,153.48 L437.73,153.77 L439.12,154.58 L440.51,155.39 L441.90,156.20 L443.28,157.02 L444.66,157.83 L446.04,158.64 L447.42,159.46 L448.80,160.28 L450.17,161.09 L451.54,161.91 L452.34,162.39 L452.90,162.73 L454.27,163.55 L455.63,164.37 L456.99,165.19 L458.34,166.01 L459.69,166.84 L461.04,167.66 L462.38,168.49 L463.19,168.99 L463.72,169.32 L465.05,170.15 L466.37,170.98 L467.69,171.82 L469.00,172.65 L470.31,173.49 L470.54,173.65 L471.60,174.34 L472.89,175.18 L474.16,176.03 L475.42,176.88 L475.75,177.11 L476.67,177.74 L477.91,178.60 L479.12,179.47 L479.57,179.80 L480.32,180.35 L481.50,181.23 L482.44,181.96 L482.70,182.08 L484.13,182.80 L484.77,182.41Z M527.59,94.14 L529.01,94.36 L527.65,93.86 L526.22,93.33 L525.58,93.39 L524.95,93.44 L524.31,93.50 L524.05,93.52 L524.67,93.63 L526.15,93.89 L526.56,93.96 L527.59,94.14Z" fill="#0010ff" stroke="#0010ff" stroke-width="0.4" stroke-linejoin="round" fill-rule="evenodd"/>
<path d="M490.49,179.08 L491.13,178.72 L491.77,178.37 L492.40,178.02 L493.04,177.67 L493.68,177.32 L494.31,176.97 L494.95,176.61 L495.58,176.26 L496.22,175.91 L496.86,175.55 L497.31,175.29 L495.62,174.58 L494.22,173.97 L493.95,173.86 L492.30,173.14 L490.65,172.41 L489.36,171.83 L489.02,171.68 L487.39,170.94 L485.78,170.20 L484.17,169.46 L483.70,169.24 L482.58,168.72 L480.99,167.97 L479.41,167.22 L477.84,166.47 L476.87,166.01 L476.27,165.72 L474.72,164.96 L473.17,164.20 L471.62,163.44 L470.08,162.68 L468.54,161.92 L468.28,161.79 L467.01,161.15 L465.49,160.38 L463.96,159.62 L462.45,158.85 L460.93,158.08 L459.42,157.30 L457.91,156.53 L456.88,156.00 L456.41,155.76 L454.91,154.98 L453.41,154.21 L451.91,153.43 L450.42,152.65 L448.92,151.88 L447.44,151.10 L445.95,150.32 L444.46,149.54 L442.98,148.76 L441.78,147.88 L440.93,147.13 L440.74,146.96 L439.68,146.04 L439.09,145.54 L438.60,145.13 L437.49,144.22 L436.95,143.79 L436.37,143.32 L435.24,142.43 L434.51,141.86 L434.09,141.54 L432.93,140.65 L431.75,139.77 L431.75,139.77 L430.58,138.89 L429.39,138.01 L428.73,137.53 L428.20,137.13 L427.01,136.25 L425.82,135.38 L425.55,135.19 L424.62,134.50 L423.43,133.63 L422.37,132.86 L422.23,132.76 L421.04,131.88 L419.84,131.01 L419.12,130.49 L418.63,130.14 L417.43,129.27 L416.21,128.40 L415.65,128.00 L415.00,127.53 L414.88,127.64 L414.24,128.26 L413.61,128.88 L412.97,129.53 L412.58,129.96 L413.81,130.83 L414.04,130.99 L415.04,131.69 L416.28,132.55 L417.50,133.42 L417.92,133.72 L418.73,134.28 L419.95,135.15 L421.16,136.02 L421.55,136.30 L422.37,136.89 L423.58,137.76 L424.77,138.64 L424.85,138.70 L425.96,139.51 L427.13,140.40 L427.78,140.89 L428.29,141.28 L429.45,142.17 L430.35,142.89 L430.58,143.07 L431.70,143.97 L432.59,144.69 L432.81,144.87 L433.89,145.78 L434.53,146.34 L434.95,146.70 L435.99,147.63 L436.22,147.84 L437.01,148.56 L437.71,149.23 L438.00,149.50 L438.98,150.45 L439.20,150.60 L440.13,151.33 L441.56,152.13 L443.00,152.93 L444.43,153.73 L445.86,154.53 L447.29,155.32 L448.72,156.12 L450.15,156.92 L451.58,157.72 L453.01,158.52 L454.44,159.31 L455.87,160.11 L457.30,160.91 L458.73,161.71 L460.16,162.51 L461.59,163.31 L463.01,164.10 L464.44,164.90 L465.87,165.70 L467.30,166.50 L468.73,167.30 L470.16,168.10 L471.58,168.90 L473.01,169.70 L474.44,170.50 L475.87,171.29 L477.29,172.09 L478.72,172.89 L480.14,173.69 L481.57,174.49 L482.99,175.29 L484.42,176.09 L485.84,176.89 L487.26,177.70 L488.68,178.50 L490.10,179.30 L490.49,179.08Z M537.81,97.61 L537.68,97.56 L536.25,97.04 L534.82,96.51 L533.38,95.98 L531.95,95.45 L530.52,94.92 L529.09,94.39 L529.01,94.36 L527.59,94.14 L526.56,93.96 L526.15,93.89 L524.67,93.63 L524.05,93.52 L523.68,93.55 L523.04,93.60 L522.40,93.66 L521.77,93.71 L521.13,93.76 L520.49,93.81 L519.86,93.87 L519.22,93.92 L518.59,93.97 L517.95,94.02 L517.34,94.07 L518.96,94.43 L519.64,94.58 L520.61,94.78 L522.00,95.07 L522.22,95.12 L523.80,95.43 L524.41,95.55 L525.33,95.73 L526.84,96.00 L526.88,96.01 L528.31,96.26 L529.41,96.45 L529.75,96.50 L531.17,96.72 L532.03,96.86 L532.55,96.93 L533.90,97.12 L534.74,97.24 L535.23,97.30 L536.53,97.46 L537.55,97.58 L537.81,97.61Z" fill="#0020ff" stroke="#0020ff" stroke-width="0.4" stroke-linejoin="round" fill-rule="evenodd"/>
<path d="M497.49,175.19 L498.13,174.83 L498.76,174.47 L499.40,174.11 L500.04,173.74 L500.67,173.38 L501.31,173.02 L501.95,172.65 L502.58,172.29 L503.22,171.93 L503.85,171.56 L504.09,171.43 L502.99,171.03 L502.27,170.76 L500.47,170.08 L499.91,169.87 L498.67,169.40 L496.89,168.72 L496.68,168.64 L495.12,168.03 L493.36,167.34 L493.30,167.32 L491.62,166.65 L489.88,165.95 L489.71,165.88 L488.15,165.25 L486.44,164.54 L485.89,164.32 L484.73,163.84 L483.04,163.12 L481.78,162.59 L481.35,162.41 L479.68,161.69 L478.01,160.97 L477.31,160.67 L476.35,160.25 L474.70,159.52 L473.06,158.79 L472.40,158.50 L471.43,158.06 L469.80,157.32 L468.19,156.59 L466.93,156.02 L466.57,155.85 L464.97,155.11 L463.37,154.36 L461.78,153.62 L460.75,153.14 L460.19,152.87 L458.61,152.12 L457.04,151.37 L455.47,150.62 L453.90,149.87 L453.63,149.74 L452.34,149.11 L450.79,148.35 L449.24,147.60 L447.69,146.84 L446.14,146.08 L444.87,145.23 L443.76,144.32 L443.43,144.06 L442.64,143.42 L441.51,142.53 L441.04,142.17 L440.37,141.63 L439.22,140.74 L438.52,140.20 L438.07,139.85 L436.92,138.97 L435.86,138.16 L435.76,138.08 L434.59,137.19 L433.42,136.31 L433.03,136.02 L432.24,135.43 L431.06,134.55 L430.02,133.78 L429.87,133.68 L428.68,132.80 L427.48,131.93 L426.78,131.42 L426.28,131.05 L425.07,130.18 L423.85,129.31 L423.30,128.92 L422.64,128.45 L421.42,127.58 L420.19,126.72 L419.55,126.27 L418.96,125.85 L417.72,124.99 L417.43,125.26 L416.79,125.84 L416.15,126.43 L415.52,127.03 L415.00,127.53 L415.65,128.00 L416.21,128.40 L417.43,129.27 L418.63,130.14 L419.12,130.49 L419.84,131.01 L421.04,131.88 L422.23,132.76 L422.37,132.86 L423.43,133.63 L424.62,134.50 L425.55,135.19 L425.82,135.38 L427.01,136.25 L428.20,137.13 L428.73,137.53 L429.39,138.01 L430.58,138.89 L431.75,139.77 L431.75,139.77 L432.93,140.65 L434.09,141.54 L434.51,141.86 L435.24,142.43 L436.37,143.32 L436.95,143.79 L437.49,144.22 L438.60,145.13 L439.09,145.54 L439.68,146.04 L440.74,146.96 L440.93,147.13 L441.78,147.88 L442.98,148.76 L444.46,149.54 L445.95,150.32 L447.44,151.10 L448.92,151.88 L450.42,152.65 L451.91,153.43 L453.41,154.21 L454.91,154.98 L456.41,155.76 L456.88,156.00 L457.91,156.53 L459.42,157.30 L460.93,158.08 L462.45,158.85 L463.96,159.62 L465.49,160.38 L467.01,161.15 L468.28,161.79 L468.54,161.92 L470.08,162.68 L471.62,163.44 L473.17,164.20 L474.72,164.96 L476.27,165.72 L476.87,166.01 L477.84,166.47 L479.41,167.22 L480.99,167.97 L482.58,168.72 L483.70,169.24 L484.17,169.46 L485.78,170.20 L487.39,170.94 L489.02,171.68 L489.36,171.83 L490.65,172.41 L492.30,173.14 L493.95,173.86 L494.22,173.97 L495.62,174.58 L497.31,175.29 L497.49,175.19Z M546.60,100.86 L546.28,100.74 L544.84,100.21 L543.41,99.68 L541.98,99.15 L540.55,98.62 L539.11,98.09 L537.81,97.61 L537.55,97.58 L536.53,97.46 L535.23,97.30 L534.74,97.24 L533.90,97.12 L532.55,96.93 L532.03,96.86 L531.17,96.72 L529.75,96.50 L529.41,96.45 L528.31,96.26 L526.88,96.01 L526.84,96.00 L525.33,95.73 L524.41,95.55 L523.80,95.43 L522.22,95.12 L522.00,95.07 L520.61,94.78 L519.64,94.58 L518.96,94.43 L517.34,94.07 L517.31,94.07 L516.68,94.12 L516.04,94.17 L515.40,94.22 L514.77,94.26 L514.13,94.31 L513.50,94.36 L512.86,94.41 L512.22,94.45 L511.59,94.50 L510.95,94.54 L510.82,94.55 L511.24,94.67 L512.94,95.12 L513.18,95.19 L515.07,95.68 L515.10,95.68 L516.90,96.13 L517.30,96.23 L518.68,96.56 L519.54,96.76 L520.41,96.96 L521.83,97.28 L522.10,97.34 L523.74,97.69 L524.17,97.78 L525.34,98.02 L526.56,98.26 L526.91,98.33 L528.43,98.62 L529.02,98.72 L529.92,98.88 L531.38,99.13 L531.56,99.16 L532.80,99.36 L534.18,99.57 L534.19,99.57 L535.55,99.77 L536.88,99.95 L536.89,99.95 L538.19,100.11 L539.46,100.26 L539.73,100.29 L540.71,100.39 L541.94,100.51 L542.70,100.58 L543.14,100.62 L544.31,100.71 L545.47,100.79 L545.86,100.81 L546.60,100.86Z" fill="#0030ff" stroke="#0030ff" stroke-width="0.4" stroke-linejoin="round" fill-rule="evenodd"/>
<path d="M502.99,171.03 L504.09,171.43 L504.49,171.20 L505.13,170.84 L505.76,170.48 L506.40,170.12 L507.04,169.76 L507.67,169.40 L508.31,169.05 L508.94,168.70 L509.58,168.35 L510.22,168.00 L510.85,167.66 L511.27,167.44 L509.74,166.95 L509.31,166.81 L507.37,166.18 L507.31,166.16 L505.45,165.54 L504.79,165.32 L503.55,164.90 L502.18,164.43 L501.66,164.25 L499.78,163.60 L499.48,163.49 L497.92,162.94 L496.69,162.50 L496.07,162.28 L494.24,161.61 L493.80,161.45 L492.41,160.94 L490.82,160.35 L490.60,160.27 L488.79,159.60 L487.72,159.19 L486.99,158.92 L485.20,158.24 L484.53,157.98 L483.43,157.55 L481.65,156.87 L481.21,156.70 L479.89,156.18 L478.14,155.48 L477.74,155.33 L476.40,154.79 L474.67,154.09 L474.08,153.85 L472.95,153.38 L471.23,152.68 L470.19,152.25 L469.53,151.97 L467.84,151.26 L466.15,150.54 L466.03,150.49 L464.47,149.83 L462.81,149.11 L461.55,148.56 L461.14,148.38 L459.49,147.66 L457.84,146.93 L456.70,146.42 L456.20,146.20 L454.57,145.47 L452.94,144.74 L451.39,144.03 L451.32,144.00 L449.71,143.26 L448.39,142.43 L448.10,142.20 L447.26,141.53 L446.11,140.64 L445.61,140.25 L444.97,139.75 L443.81,138.86 L442.95,138.21 L442.65,137.98 L441.48,137.09 L440.30,136.21 L440.09,136.05 L439.12,135.33 L437.93,134.46 L437.00,133.77 L436.74,133.58 L435.54,132.71 L434.33,131.84 L433.65,131.34 L433.12,130.97 L431.90,130.10 L430.68,129.23 L429.99,128.75 L429.45,128.37 L428.22,127.50 L426.98,126.64 L425.99,125.96 L425.74,125.79 L424.49,124.93 L423.24,124.07 L421.98,123.22 L421.57,122.93 L420.72,122.36 L420.61,122.46 L419.97,123.00 L419.33,123.56 L418.70,124.12 L418.06,124.68 L417.72,124.99 L418.96,125.85 L419.55,126.27 L420.19,126.72 L421.42,127.58 L422.64,128.45 L423.30,128.92 L423.85,129.31 L425.07,130.18 L426.28,131.05 L426.78,131.42 L427.48,131.93 L428.68,132.80 L429.87,133.68 L430.02,133.78 L431.06,134.55 L432.24,135.43 L433.03,136.02 L433.42,136.31 L434.59,137.19 L435.76,138.08 L435.86,138.16 L436.92,138.97 L438.07,139.85 L438.52,140.20 L439.22,140.74 L440.37,141.63 L441.04,142.17 L441.51,142.53 L442.64,143.42 L443.43,144.06 L443.76,144.32 L444.87,145.23 L446.14,146.08 L447.69,146.84 L449.24,147.60 L450.79,148.35 L452.34,149.11 L453.63,149.74 L453.90,149.87 L455.47,150.62 L457.04,151.37 L458.61,152.12 L460.19,152.87 L460.75,153.14 L461.78,153.62 L463.37,154.36 L464.97,155.11 L466.57,155.85 L466.93,156.02 L468.19,156.59 L469.80,157.32 L471.43,158.06 L472.40,158.50 L473.06,158.79 L474.70,159.52 L476.35,160.25 L477.31,160.67 L478.01,160.97 L479.68,161.69 L481.35,162.41 L481.78,162.59 L483.04,163.12 L484.73,163.84 L485.89,164.32 L486.44,164.54 L488.15,165.25 L489.71,165.88 L489.88,165.95 L491.62,166.65 L493.30,167.32 L493.36,167.34 L495.12,168.03 L496.68,168.64 L496.89,168.72 L498.67,169.40 L499.91,169.87 L500.47,170.08 L502.27,170.76 L502.99,171.03Z M554.41,104.12 L555.39,104.10 L554.87,103.91 L553.44,103.38 L552.01,102.85 L550.57,102.32 L549.14,101.80 L547.71,101.27 L546.60,100.86 L545.86,100.81 L545.47,100.79 L544.31,100.71 L543.14,100.62 L542.70,100.58 L541.94,100.51 L540.71,100.39 L539.73,100.29 L539.46,100.26 L538.19,100.11 L536.89,99.95 L536.88,99.95 L535.55,99.77 L534.19,99.57 L534.18,99.57 L532.80,99.36 L531.56,99.16 L531.38,99.13 L529.92,98.88 L529.02,98.72 L528.43,98.62 L526.91,98.33 L526.56,98.26 L525.34,98.02 L524.17,97.78 L523.74,97.69 L522.10,97.34 L521.83,97.28 L520.41,96.96 L519.54,96.76 L518.68,96.56 L517.30,96.23 L516.90,96.13 L515.10,95.68 L515.07,95.68 L513.18,95.19 L512.94,95.12 L511.24,94.67 L510.82,94.55 L510.31,94.59 L509.68,94.63 L509.04,94.67 L508.41,94.71 L507.77,94.75 L507.13,94.79 L506.50,94.84 L505.86,94.88 L505.22,94.92 L504.59,94.96 L504.53,94.96 L504.75,95.03 L506.50,95.58 L507.07,95.76 L508.49,96.20 L509.32,96.45 L510.50,96.80 L511.48,97.09 L512.55,97.40 L513.57,97.69 L514.62,97.99 L515.60,98.26 L516.73,98.56 L517.55,98.78 L518.88,99.13 L519.44,99.27 L521.07,99.68 L521.27,99.73 L523.05,100.15 L523.30,100.21 L524.77,100.55 L525.58,100.73 L526.44,100.92 L527.93,101.23 L528.06,101.26 L529.64,101.57 L530.34,101.71 L531.17,101.86 L532.66,102.13 L532.83,102.16 L534.12,102.38 L535.40,102.59 L535.54,102.61 L536.92,102.82 L538.07,102.98 L538.27,103.01 L539.60,103.18 L540.85,103.33 L540.89,103.34 L542.15,103.48 L543.38,103.60 L543.79,103.64 L544.59,103.71 L545.77,103.81 L546.90,103.89 L546.93,103.89 L548.06,103.96 L549.17,104.01 L550.25,104.06 L550.26,104.06 L551.33,104.09 L552.37,104.11 L553.40,104.12 L553.94,104.12 L554.41,104.12Z" fill="#0040ff" stroke="#0040ff" stroke-width="0.4" stroke-linejoin="round" fill-rule="evenodd"/>
<path d="M509.74,166.95 L511.27,167.44 L511.49,167.32 L512.13,166.98 L512.76,166.64 L513.40,166.31 L514.03,165.98 L514.67,165.66 L515.31,165.34 L515.94,165.02 L516.58,164.71 L517.22,164.40 L517.85,164.09 L518.49,163.78 L519.12,163.47 L519.76,163.16 L520.40,162.85 L520.69,162.71 L519.89,162.52 L518.44,162.18 L518.13,162.10 L516.35,161.68 L516.21,161.64 L514.56,161.24 L513.99,161.10 L512.73,160.79 L511.80,160.55 L510.88,160.32 L509.62,160.00 L509.01,159.84 L507.48,159.43 L507.08,159.33 L505.37,158.85 L505.07,158.77 L503.31,158.26 L502.98,158.17 L501.28,157.66 L500.79,157.51 L499.28,157.05 L498.52,156.81 L497.31,156.43 L496.17,156.06 L495.36,155.80 L493.72,155.26 L493.43,155.17 L491.52,154.52 L491.18,154.41 L489.62,153.88 L488.55,153.51 L487.74,153.23 L485.88,152.57 L485.82,152.55 L484.03,151.91 L482.99,151.54 L482.18,151.25 L480.36,150.58 L480.07,150.48 L478.54,149.91 L477.04,149.35 L476.73,149.23 L474.93,148.56 L473.91,148.17 L473.14,147.88 L471.36,147.19 L470.66,146.93 L469.58,146.51 L467.82,145.82 L467.30,145.62 L466.06,145.13 L464.31,144.44 L463.82,144.24 L462.56,143.74 L460.83,143.04 L460.21,142.79 L459.09,142.34 L457.37,141.64 L456.46,141.27 L455.65,140.94 L453.95,140.23 L452.57,139.41 L451.41,138.53 L451.06,138.27 L450.24,137.64 L449.06,136.76 L448.10,136.05 L447.87,135.89 L446.67,135.01 L445.47,134.14 L444.75,133.63 L444.25,133.27 L443.03,132.41 L441.81,131.54 L441.00,130.98 L440.57,130.68 L439.33,129.82 L438.09,128.96 L436.84,128.10 L436.82,128.09 L435.58,127.25 L434.33,126.39 L433.06,125.54 L432.16,124.93 L431.79,124.69 L430.52,123.84 L429.25,122.99 L427.97,122.14 L426.99,121.50 L426.69,121.30 L425.41,120.45 L424.12,119.60 L423.79,119.86 L423.15,120.37 L422.52,120.88 L421.88,121.40 L421.24,121.92 L420.72,122.36 L421.57,122.93 L421.98,123.22 L423.24,124.07 L424.49,124.93 L425.74,125.79 L425.99,125.96 L426.98,126.64 L428.22,127.50 L429.45,128.37 L429.99,128.75 L430.68,129.23 L431.90,130.10 L433.12,130.97 L433.65,131.34 L434.33,131.84 L435.54,132.71 L436.74,133.58 L437.00,133.77 L437.93,134.46 L439.12,135.33 L440.09,136.05 L440.30,136.21 L441.48,137.09 L442.65,137.98 L442.95,138.21 L443.81,138.86 L444.97,139.75 L445.61,140.25 L446.11,140.64 L447.26,141.53 L448.10,142.20 L448.39,142.43 L449.71,143.26 L451.32,144.00 L451.39,144.03 L452.94,144.74 L454.57,145.47 L456.20,146.20 L456.70,146.42 L457.84,146.93 L459.49,147.66 L461.14,148.38 L461.55,148.56 L462.81,149.11 L464.47,149.83 L466.03,150.49 L466.15,150.54 L467.84,151.26 L469.53,151.97 L470.19,152.25 L471.23,152.68 L472.95,153.38 L474.08,153.85 L474.67,154.09 L476.40,154.79 L477.74,155.33 L478.14,155.48 L479.89,156.18 L481.21,156.70 L481.65,156.87 L483.43,157.55 L484.53,157.98 L485.20,158.24 L486.99,158.92 L487.72,159.19 L488.79,159.60 L490.60,160.27 L490.82,160.35 L492.41,160.94 L493.80,161.45 L494.24,161.61 L496.07,162.28 L496.69,162.50 L497.92,162.94 L499.48,163.49 L499.78,163.60 L501.66,164.25 L502.18,164.43 L503.55,164.90 L504.79,165.32 L505.45,165.54 L507.31,166.16 L507.37,166.18 L509.31,166.81 L509.74,166.95Z M589.77,121.59 L589.25,121.31 L587.82,120.56 L586.39,119.80 L584.95,119.04 L583.52,118.28 L582.09,117.52 L580.66,116.76 L579.22,116.00 L577.79,115.24 L576.36,114.48 L574.93,113.72 L573.49,112.96 L572.06,112.20 L570.63,111.44 L569.20,110.68 L567.76,109.92 L566.33,109.16 L564.90,108.40 L563.47,107.64 L562.03,106.88 L560.60,106.12 L559.17,105.50 L557.74,104.97 L556.30,104.44 L555.39,104.10 L554.41,104.12 L553.94,104.12 L553.40,104.12 L552.37,104.11 L551.33,104.09 L550.26,104.06 L550.25,104.06 L549.17,104.01 L548.06,103.96 L546.93,103.89 L546.90,103.89 L545.77,103.81 L544.59,103.71 L543.79,103.64 L543.38,103.60 L542.15,103.48 L540.89,103.34 L540.85,103.33 L539.60,103.18 L538.27,103.01 L538.07,102.98 L536.92,102.82 L535.54,102.61 L535.40,102.59 L534.12,102.38 L532.83,102.16 L532.66,102.13 L531.17,101.86 L530.34,101.71 L529.64,101.57 L528.06,101.26 L527.93,101.23 L526.44,100.92 L525.58,100.73 L524.77,100.55 L523.30,100.21 L523.05,100.15 L521.27,99.73 L521.07,99.68 L519.44,99.27 L518.88,99.13 L517.55,98.78 L516.73,98.56 L515.60,98.26 L514.62,97.99 L513.57,97.69 L512.55,97.40 L511.48,97.09 L510.50,96.80 L509.32,96.45 L508.49,96.20 L507.07,95.76 L506.50,95.58 L504.75,95.03 L504.53,94.96 L503.95,95.00 L503.32,95.04 L502.68,95.08 L502.04,95.12 L501.41,95.16 L500.77,95.20 L500.13,95.24 L499.50,95.28 L498.86,95.32 L498.26,95.36 L500.11,96.02 L500.93,96.31 L501.97,96.68 L503.63,97.26 L503.85,97.33 L505.74,97.98 L506.23,98.14 L507.66,98.62 L508.72,98.96 L509.60,99.25 L511.11,99.73 L511.56,99.87 L513.41,100.45 L513.54,100.49 L515.55,101.10 L515.62,101.12 L517.60,101.70 L517.75,101.74 L519.67,102.28 L519.80,102.32 L521.77,102.86 L521.78,102.86 L523.68,103.36 L523.93,103.42 L525.53,103.82 L526.13,103.97 L527.31,104.25 L528.38,104.50 L529.03,104.65 L530.69,105.01 L530.70,105.01 L532.31,105.35 L533.06,105.50 L533.88,105.66 L535.39,105.94 L535.52,105.96 L536.87,106.20 L538.06,106.40 L538.30,106.44 L539.69,106.65 L540.72,106.79 L541.05,106.84 L542.37,107.01 L543.50,107.15 L543.66,107.17 L544.91,107.30 L546.14,107.42 L546.45,107.45 L547.33,107.53 L548.50,107.61 L549.60,107.69 L549.65,107.69 L551.01,107.85 L552.32,108.06 L552.34,108.06 L554.12,108.74 L555.49,109.25 L555.92,109.42 L557.73,110.09 L558.52,110.38 L559.56,110.76 L561.39,111.43 L561.46,111.45 L563.23,112.09 L564.32,112.49 L565.07,112.75 L566.92,113.41 L567.14,113.49 L568.78,114.07 L569.94,114.49 L570.63,114.73 L572.49,115.39 L572.73,115.48 L574.34,116.05 L575.52,116.47 L576.20,116.71 L578.05,117.37 L578.33,117.47 L579.90,118.03 L581.16,118.48 L581.75,118.69 L583.59,119.36 L584.01,119.51 L585.43,120.02 L586.88,120.54 L587.27,120.68 L589.11,121.35 L589.77,121.59Z" fill="#0050ff" stroke="#0050ff" stroke-width="0.4" stroke-linejoin="round" fill-rule="evenodd"/>
<path d="M519.89,162.52 L520.69,162.71 L521.03,162.54 L521.67,162.23 L522.31,161.92 L522.94,161.61 L523.58,161.31 L524.21,161.00 L524.85,160.70 L525.49,160.39 L526.12,160.09 L526.76,159.80 L527.40,159.50 L528.03,159.21 L528.67,158.91 L529.30,158.63 L529.94,158.34 L530.58,158.06 L531.21,157.78 L531.85,157.51 L532.48,157.23 L532.83,157.09 L532.15,157.02 L530.85,156.85 L530.03,156.74 L529.51,156.67 L528.12,156.46 L527.38,156.34 L526.69,156.23 L525.23,155.97 L524.84,155.90 L523.73,155.70 L522.37,155.45 L522.20,155.41 L520.64,155.11 L519.96,154.97 L519.06,154.79 L517.58,154.48 L517.45,154.46 L515.83,154.11 L515.23,153.99 L514.18,153.76 L512.90,153.48 L512.53,153.40 L510.84,153.03 L510.59,152.97 L509.13,152.64 L508.32,152.45 L507.40,152.23 L506.07,151.92 L505.63,151.81 L503.85,151.38 L503.83,151.37 L502.00,150.91 L501.66,150.83 L500.13,150.44 L499.49,150.27 L498.22,149.94 L497.35,149.70 L496.27,149.41 L495.24,149.13 L494.28,148.87 L493.14,148.55 L492.24,148.29 L491.08,147.96 L490.14,147.69 L489.03,147.36 L487.98,147.05 L487.02,146.75 L485.73,146.36 L485.03,146.14 L483.39,145.62 L483.07,145.51 L481.13,144.88 L480.95,144.82 L479.21,144.24 L478.43,143.98 L477.31,143.60 L475.80,143.08 L475.43,142.95 L473.56,142.30 L473.09,142.13 L471.70,141.64 L470.27,141.13 L469.85,140.97 L468.02,140.31 L467.35,140.06 L466.20,139.64 L464.39,138.97 L464.33,138.94 L462.59,138.29 L461.20,137.76 L460.79,137.61 L459.01,136.93 L457.56,136.13 L456.32,135.27 L455.08,134.41 L454.64,134.11 L453.83,133.56 L452.58,132.70 L451.32,131.85 L450.11,131.03 L450.06,130.99 L448.79,130.14 L447.52,129.29 L446.25,128.44 L445.08,127.67 L444.97,127.59 L443.69,126.75 L442.41,125.90 L441.12,125.05 L439.83,124.21 L439.56,124.03 L438.54,123.37 L437.25,122.52 L435.95,121.68 L434.65,120.84 L433.53,120.11 L433.35,120.00 L432.05,119.16 L430.75,118.32 L429.44,117.48 L428.14,116.64 L427.60,117.02 L426.97,117.47 L426.33,117.93 L425.70,118.40 L425.06,118.88 L424.42,119.37 L424.12,119.60 L425.41,120.45 L426.69,121.30 L426.99,121.50 L427.97,122.14 L429.25,122.99 L430.52,123.84 L431.79,124.69 L432.16,124.93 L433.06,125.54 L434.33,126.39 L435.58,127.25 L436.82,128.09 L436.84,128.10 L438.09,128.96 L439.33,129.82 L440.57,130.68 L441.00,130.98 L441.81,131.54 L443.03,132.41 L444.25,133.27 L444.75,133.63 L445.47,134.14 L446.67,135.01 L447.87,135.89 L448.10,136.05 L449.06,136.76 L450.24,137.64 L451.06,138.27 L451.41,138.53 L452.57,139.41 L453.95,140.23 L455.65,140.94 L456.46,141.27 L457.37,141.64 L459.09,142.34 L460.21,142.79 L460.83,143.04 L462.56,143.74 L463.82,144.24 L464.31,144.44 L466.06,145.13 L467.30,145.62 L467.82,145.82 L469.58,146.51 L470.66,146.93 L471.36,147.19 L473.14,147.88 L473.91,148.17 L474.93,148.56 L476.73,149.23 L477.04,149.35 L478.54,149.91 L480.07,150.48 L480.36,150.58 L482.18,151.25 L482.99,151.54 L484.03,151.91 L485.82,152.55 L485.88,152.57 L487.74,153.23 L488.55,153.51 L489.62,153.88 L491.18,154.41 L491.52,154.52 L493.43,155.17 L493.72,155.26 L495.36,155.80 L496.17,156.06 L497.31,156.43 L498.52,156.81 L499.28,157.05 L500.79,157.51 L501.28,157.66 L502.98,158.17 L503.31,158.26 L505.07,158.77 L505.37,158.85 L507.08,159.33 L507.48,159.43 L509.01,159.84 L509.62,160.00 L510.88,160.32 L511.80,160.55 L512.73,160.79 L513.99,161.10 L514.56,161.24 L516.21,161.64 L516.35,161.68 L518.13,162.10 L518.44,162.18 L519.89,162.52Z M591.02,138.07 L591.65,137.87 L592.29,137.68 L592.93,137.49 L593.56,137.30 L594.20,137.11 L594.84,136.92 L595.47,136.73 L596.11,136.54 L596.74,136.35 L597.38,136.16 L598.02,135.98 L598.65,135.79 L599.29,135.61 L599.92,135.42 L600.56,135.24 L601.20,135.06 L601.83,134.88 L602.47,134.70 L603.11,134.52 L603.74,134.35 L604.38,134.19 L605.01,134.03 L605.65,133.87 L606.29,133.72 L606.92,133.57 L607.56,133.43 L608.20,133.28 L608.83,133.14 L609.47,133.00 L610.10,132.85 L610.74,132.71 L609.31,131.95 L607.88,131.19 L606.44,130.43 L605.01,129.67 L603.58,128.91 L602.15,128.15 L600.71,127.39 L599.28,126.63 L597.85,125.87 L596.42,125.11 L594.98,124.35 L593.55,123.59 L592.12,122.83 L590.69,122.07 L589.77,121.59 L589.11,121.35 L587.27,120.68 L586.88,120.54 L585.43,120.02 L584.01,119.51 L583.59,119.36 L581.75,118.69 L581.16,118.48 L579.90,118.03 L578.33,117.47 L578.05,117.37 L576.20,116.71 L575.52,116.47 L574.34,116.05 L572.73,115.48 L572.49,115.39 L570.63,114.73 L569.94,114.49 L568.78,114.07 L567.14,113.49 L566.92,113.41 L565.07,112.75 L564.32,112.49 L563.23,112.09 L561.46,111.45 L561.39,111.43 L559.56,110.76 L558.52,110.38 L557.73,110.09 L555.92,109.42 L555.49,109.25 L554.12,108.74 L552.34,108.06 L552.32,108.06 L551.01,107.85 L549.65,107.69 L549.60,107.69 L548.50,107.61 L547.33,107.53 L546.45,107.45 L546.14,107.42 L544.91,107.30 L543.66,107.17 L543.50,107.15 L542.37,107.01 L541.05,106.84 L540.72,106.79 L539.69,106.65 L538.30,106.44 L538.06,106.40 L536.87,106.20 L535.52,105.96 L535.39,105.94 L533.88,105.66 L533.06,105.50 L532.31,105.35 L530.70,105.01 L530.69,105.01 L529.03,104.65 L528.38,104.50 L527.31,104.25 L526.13,103.97 L525.53,103.82 L523.93,103.42 L523.68,103.36 L521.78,102.86 L521.77,102.86 L519.80,102.32 L519.67,102.28 L517.75,101.74 L517.60,101.70 L515.62,101.12 L515.55,101.10 L513.54,100.49 L513.41,100.45 L511.56,99.87 L511.11,99.73 L509.60,99.25 L508.72,98.96 L507.66,98.62 L506.23,98.14 L505.74,97.98 L503.85,97.33 L503.63,97.26 L501.97,96.68 L500.93,96.31 L500.11,96.02 L498.26,95.36 L498.23,95.36 L497.59,95.41 L496.95,95.45 L496.32,95.50 L495.68,95.54 L495.04,95.58 L494.41,95.62 L493.77,95.66 L493.14,95.70 L492.50,95.74 L491.96,95.77 L493.73,96.46 L494.82,96.89 L495.49,97.15 L497.27,97.84 L498.11,98.16 L499.05,98.52 L500.84,99.20 L501.29,99.37 L502.65,99.88 L504.37,100.52 L504.46,100.55 L506.28,101.22 L507.32,101.60 L508.11,101.88 L509.96,102.55 L510.16,102.62 L511.83,103.20 L512.88,103.57 L513.71,103.85 L515.49,104.46 L515.61,104.50 L517.53,105.13 L517.98,105.28 L519.47,105.76 L520.36,106.05 L521.45,106.38 L522.62,106.74 L523.47,106.99 L524.74,107.36 L525.53,107.58 L526.75,107.91 L527.65,108.15 L528.67,108.42 L529.81,108.71 L530.52,108.89 L532.03,109.25 L532.30,109.32 L534.01,109.71 L534.31,109.77 L535.67,110.07 L536.66,110.27 L537.50,110.50 L538.68,110.87 L540.13,111.67 L541.57,112.46 L543.01,113.26 L544.46,114.05 L545.91,114.84 L547.35,115.63 L548.80,116.43 L550.25,117.22 L551.69,118.01 L553.14,118.80 L554.60,119.59 L556.05,120.39 L557.50,121.18 L558.96,121.97 L560.41,122.76 L561.87,123.54 L562.91,124.10 L563.33,124.33 L564.79,125.12 L566.26,125.91 L567.73,126.69 L569.20,127.48 L570.68,128.26 L572.16,129.04 L573.64,129.82 L575.13,130.60 L576.63,131.38 L578.14,132.15 L579.66,132.92 L580.62,133.40 L581.19,133.68 L582.73,134.44 L584.30,135.20 L585.89,135.94 L587.52,136.68 L587.53,136.68 L589.18,137.40 L590.91,138.10 L591.02,138.07Z" fill="#0060ff" stroke="#0060ff" stroke-width="0.4" stroke-linejoin="round" fill-rule="evenodd"/>
<path d="M530.85,156.85 L532.15,157.02 L532.83,157.09 L533.12,156.97 L533.76,156.70 L534.39,156.44 L535.03,156.19 L535.67,155.94 L536.30,155.69 L536.94,155.45 L537.57,155.22 L538.21,154.99 L538.85,154.76 L539.48,154.53 L540.12,154.30 L540.76,154.08 L541.39,153.85 L542.03,153.62 L542.66,153.40 L543.30,153.17 L543.94,152.95 L544.57,152.72 L545.21,152.50 L545.85,152.27 L546.48,152.05 L547.12,151.83 L547.75,151.60 L548.39,151.38 L549.03,151.16 L549.66,150.94 L550.30,150.72 L550.94,150.50 L551.57,150.28 L552.21,150.07 L552.84,149.85 L553.48,149.63 L554.12,149.42 L554.75,149.20 L555.39,148.99 L556.03,148.78 L556.66,148.56 L557.30,148.35 L557.93,148.14 L558.57,147.93 L559.21,147.72 L559.84,147.52 L560.48,147.31 L561.12,147.11 L561.75,146.90 L562.39,146.70 L563.02,146.50 L563.66,146.30 L564.30,146.10 L564.93,145.91 L565.57,145.71 L566.20,145.52 L566.84,145.32 L567.48,145.13 L568.11,144.94 L568.75,144.75 L569.39,144.56 L570.02,144.37 L570.66,144.18 L571.29,143.99 L571.93,143.80 L572.57,143.61 L573.20,143.42 L573.84,143.23 L574.48,143.05 L575.11,142.86 L575.75,142.67 L576.38,142.48 L577.02,142.29 L577.66,142.11 L578.29,141.92 L578.93,141.73 L579.57,141.54 L580.20,141.35 L580.84,141.16 L581.47,140.96 L582.11,140.77 L582.75,140.58 L583.38,140.39 L584.02,140.19 L584.66,140.00 L585.29,139.81 L585.93,139.61 L586.56,139.42 L587.20,139.23 L587.84,139.03 L588.47,138.84 L589.11,138.64 L589.75,138.45 L590.38,138.26 L590.91,138.10 L589.18,137.40 L587.53,136.68 L587.52,136.68 L585.89,135.94 L584.30,135.20 L582.73,134.44 L581.19,133.68 L580.62,133.40 L579.66,132.92 L578.14,132.15 L576.63,131.38 L575.13,130.60 L573.64,129.82 L572.16,129.04 L570.68,128.26 L569.20,127.48 L567.73,126.69 L566.26,125.91 L564.79,125.12 L563.33,124.33 L562.91,124.10 L561.87,123.54 L560.41,122.76 L558.96,121.97 L557.50,121.18 L556.05,120.39 L554.60,119.59 L553.14,118.80 L551.69,118.01 L550.25,117.22 L548.80,116.43 L547.35,115.63 L545.91,114.84 L544.46,114.05 L543.01,113.26 L541.57,112.46 L540.13,111.67 L538.68,110.87 L537.50,110.50 L536.66,110.27 L535.67,110.07 L534.31,109.77 L534.01,109.71 L532.30,109.32 L532.03,109.25 L530.52,108.89 L529.81,108.71 L528.67,108.42 L527.65,108.15 L526.75,107.91 L525.53,107.58 L524.74,107.36 L523.47,106.99 L522.62,106.74 L521.45,106.38 L520.36,106.05 L519.47,105.76 L517.98,105.28 L517.53,105.13 L515.61,104.50 L515.49,104.46 L513.71,103.85 L512.88,103.57 L511.83,103.20 L510.16,102.62 L509.96,102.55 L508.11,101.88 L507.32,101.60 L506.28,101.22 L504.46,100.55 L504.37,100.52 L502.65,99.88 L501.29,99.37 L500.84,99.20 L499.05,98.52 L498.11,98.16 L497.27,97.84 L495.49,97.15 L494.82,96.89 L493.73,96.46 L491.96,95.77 L491.86,95.78 L491.23,95.82 L490.59,95.85 L489.96,95.89 L489.32,95.93 L488.68,95.97 L488.05,96.01 L487.41,96.06 L486.77,96.10 L486.14,96.14 L485.68,96.18 L487.40,96.88 L488.40,97.29 L489.12,97.59 L490.85,98.29 L492.13,98.80 L492.58,98.99 L494.32,99.68 L495.76,100.26 L496.06,100.38 L497.80,101.08 L499.29,101.67 L499.55,101.77 L501.31,102.46 L502.74,103.02 L503.07,103.15 L504.84,103.84 L506.09,104.33 L506.61,104.53 L508.39,105.21 L509.36,105.58 L510.17,105.89 L511.96,106.57 L512.54,106.79 L513.76,107.25 L515.57,107.92 L515.62,107.94 L517.39,108.60 L518.61,109.05 L519.21,109.27 L521.05,109.93 L521.51,110.10 L522.90,110.59 L524.31,111.09 L524.76,111.25 L526.63,111.90 L527.37,112.21 L528.26,112.63 L528.95,113.12 L529.50,113.50 L530.72,114.36 L531.94,115.23 L532.60,115.71 L533.14,116.10 L534.34,116.98 L535.52,117.86 L535.71,118.00 L536.69,118.74 L537.84,119.63 L538.35,120.03 L538.97,120.52 L540.09,121.42 L540.61,121.85 L541.19,122.33 L542.26,123.25 L542.54,123.49 L543.31,124.17 L544.19,124.97 L544.33,125.10 L545.32,126.04 L545.59,126.31 L546.27,127.00 L546.78,127.53 L547.18,127.97 L547.78,128.65 L548.03,128.95 L548.62,129.68 L548.83,129.96 L549.31,130.63 L549.55,130.99 L549.88,131.51 L550.18,132.05 L550.32,132.32 L550.67,133.07 L550.70,133.14 L550.92,133.77 L551.05,134.29 L551.08,134.43 L551.17,135.04 L551.18,135.52 L551.18,135.61 L551.13,136.14 L551.01,136.64 L550.93,136.87 L550.84,137.10 L550.61,137.53 L550.34,137.95 L550.05,138.35 L549.98,138.44 L549.74,138.74 L549.40,139.11 L549.04,139.47 L548.65,139.82 L548.24,140.15 L547.93,140.38 L547.80,140.47 L547.35,140.78 L546.87,141.08 L546.38,141.37 L545.88,141.65 L545.36,141.92 L544.82,142.18 L544.27,142.44 L543.70,142.69 L543.13,142.93 L542.53,143.16 L541.93,143.38 L541.31,143.60 L540.68,143.81 L540.04,144.02 L539.38,144.22 L538.72,144.41 L538.04,144.59 L537.35,144.77 L536.64,144.94 L535.93,145.10 L535.20,145.26 L534.46,145.41 L533.70,145.55 L532.93,145.69 L532.15,145.81 L531.35,145.93 L530.70,146.01 L530.53,146.03 L529.70,146.13 L528.85,146.22 L527.98,146.30 L527.10,146.37 L526.20,146.43 L525.40,146.48 L525.28,146.49 L524.34,146.52 L523.35,146.53 L522.30,146.52 L521.52,146.48 L521.21,146.47 L520.06,146.39 L518.86,146.29 L518.40,146.24 L517.62,146.16 L516.33,146.00 L515.57,145.90 L515.00,145.82 L513.62,145.62 L512.90,145.50 L512.21,145.39 L510.76,145.15 L510.34,145.08 L509.28,144.89 L507.85,144.62 L507.77,144.61 L506.22,144.31 L505.42,144.15 L504.66,144.00 L503.07,143.68 L503.02,143.67 L501.46,143.35 L500.66,143.18 L499.84,143.01 L498.31,142.68 L498.21,142.66 L496.57,142.31 L495.97,142.18 L494.92,141.95 L493.66,141.67 L493.23,141.57 L491.49,141.17 L491.39,141.15 L489.72,140.75 L489.16,140.61 L487.89,140.29 L486.98,140.06 L486.02,139.81 L484.82,139.50 L484.10,139.30 L482.70,138.92 L482.12,138.77 L480.61,138.34 L480.08,138.20 L478.54,137.75 L477.99,137.59 L476.51,137.15 L475.82,136.95 L474.50,136.54 L473.59,136.27 L472.51,135.93 L471.27,135.54 L470.54,135.30 L468.88,134.77 L468.60,134.68 L466.67,134.04 L466.38,133.94 L464.77,133.40 L463.24,132.63 L461.96,131.78 L460.67,130.94 L459.38,130.10 L458.83,129.74 L458.09,129.25 L456.80,128.41 L455.50,127.57 L454.21,126.72 L452.91,125.88 L452.87,125.86 L451.61,125.04 L450.31,124.20 L449.01,123.36 L447.71,122.52 L446.65,121.83 L446.41,121.68 L445.11,120.84 L443.81,120.00 L442.50,119.16 L441.20,118.32 L440.24,117.71 L439.89,117.48 L438.59,116.64 L437.29,115.80 L435.98,114.96 L434.68,114.12 L433.75,113.53 L433.37,113.29 L433.33,113.31 L432.69,113.69 L432.06,114.07 L431.42,114.47 L430.79,114.87 L430.15,115.28 L429.51,115.70 L428.88,116.13 L428.24,116.57 L428.14,116.64 L429.44,117.48 L430.75,118.32 L432.05,119.16 L433.35,120.00 L433.53,120.11 L434.65,120.84 L435.95,121.68 L437.25,122.52 L438.54,123.37 L439.56,124.03 L439.83,124.21 L441.12,125.05 L442.41,125.90 L443.69,126.75 L444.97,127.59 L445.08,127.67 L446.25,128.44 L447.52,129.29 L448.79,130.14 L450.06,130.99 L450.11,131.03 L451.32,131.85 L452.58,132.70 L453.83,133.56 L454.64,134.11 L455.08,134.41 L456.32,135.27 L457.56,136.13 L459.01,136.93 L460.79,137.61 L461.20,137.76 L462.59,138.29 L464.33,138.94 L464.39,138.97 L466.20,139.64 L467.35,140.06 L468.02,140.31 L469.85,140.97 L470.27,141.13 L471.70,141.64 L473.09,142.13 L473.56,142.30 L475.43,142.95 L475.80,143.08 L477.31,143.60 L478.43,143.98 L479.21,144.24 L480.95,144.82 L481.13,144.88 L483.07,145.51 L483.39,145.62 L485.03,146.14 L485.73,146.36 L487.02,146.75 L487.98,147.05 L489.03,147.36 L490.14,147.69 L491.08,147.96 L492.24,148.29 L493.14,148.55 L494.28,148.87 L495.24,149.13 L496.27,149.41 L497.35,149.70 L498.22,149.94 L499.49,150.27 L500.13,150.44 L501.66,150.83 L502.00,150.91 L503.83,151.37 L503.85,151.38 L505.63,151.81 L506.07,151.92 L507.40,152.23 L508.32,152.45 L509.13,152.64 L510.59,152.97 L510.84,153.03 L512.53,153.40 L512.90,153.48 L514.18,153.76 L515.23,153.99 L515.83,154.11 L517.45,154.46 L517.58,154.48 L519.06,154.79 L519.96,154.97 L520.64,155.11 L522.20,155.41 L522.37,155.45 L523.73,155.70 L524.84,155.90 L525.23,155.97 L526.69,156.23 L527.38,156.34 L528.12,156.46 L529.51,156.67 L530.03,156.74 L530.85,156.85Z" fill="#0070ff" stroke="#0070ff" stroke-width="0.4" stroke-linejoin="round" fill-rule="evenodd"/>
<path d="M531.35,145.93 L532.15,145.81 L532.93,145.69 L533.70,145.55 L534.46,145.41 L535.20,145.26 L535.93,145.10 L536.64,144.94 L537.35,144.77 L538.04,144.59 L538.72,144.41 L539.38,144.22 L540.04,144.02 L540.68,143.81 L541.31,143.60 L541.93,143.38 L542.53,143.16 L543.13,142.93 L543.70,142.69 L544.27,142.44 L544.82,142.18 L545.36,141.92 L545.88,141.65 L546.38,141.37 L546.87,141.08 L547.35,140.78 L547.80,140.47 L547.93,140.38 L548.24,140.15 L548.65,139.82 L549.04,139.47 L549.40,139.11 L549.74,138.74 L549.98,138.44 L550.05,138.35 L550.34,137.95 L550.61,137.53 L550.84,137.10 L550.93,136.87 L551.01,136.64 L551.13,136.14 L551.18,135.61 L551.18,135.52 L551.17,135.04 L551.08,134.43 L551.05,134.29 L550.92,133.77 L550.70,133.14 L550.67,133.07 L550.32,132.32 L550.18,132.05 L549.88,131.51 L549.55,130.99 L549.31,130.63 L548.83,129.96 L548.62,129.68 L548.03,128.95 L547.78,128.65 L547.18,127.97 L546.78,127.53 L546.27,127.00 L545.59,126.31 L545.32,126.04 L544.33,125.10 L544.19,124.97 L543.31,124.17 L542.54,123.49 L542.26,123.25 L541.19,122.33 L540.61,121.85 L540.09,121.42 L538.97,120.52 L538.35,120.03 L537.84,119.63 L536.69,118.74 L535.71,118.00 L535.52,117.86 L534.34,116.98 L533.14,116.10 L532.60,115.71 L531.94,115.23 L530.72,114.36 L529.50,113.50 L528.95,113.12 L528.26,112.63 L527.37,112.21 L526.63,111.90 L524.76,111.25 L524.31,111.09 L522.90,110.59 L521.51,110.10 L521.05,109.93 L519.21,109.27 L518.61,109.05 L517.39,108.60 L515.62,107.94 L515.57,107.92 L513.76,107.25 L512.54,106.79 L511.96,106.57 L510.17,105.89 L509.36,105.58 L508.39,105.21 L506.61,104.53 L506.09,104.33 L504.84,103.84 L503.07,103.15 L502.74,103.02 L501.31,102.46 L499.55,101.77 L499.29,101.67 L497.80,101.08 L496.06,100.38 L495.76,100.26 L494.32,99.68 L492.58,98.99 L492.13,98.80 L490.85,98.29 L489.12,97.59 L488.40,97.29 L487.40,96.88 L485.68,96.18 L485.50,96.19 L484.87,96.24 L484.23,96.30 L483.59,96.35 L482.96,96.41 L482.32,96.47 L481.68,96.54 L481.05,96.61 L480.41,96.68 L479.78,96.76 L479.14,96.84 L478.50,96.91 L478.37,96.92 L479.43,97.40 L480.01,97.65 L481.67,98.38 L483.34,99.10 L483.99,99.37 L485.03,99.81 L486.73,100.52 L488.01,101.05 L488.44,101.22 L490.17,101.92 L491.70,102.54 L491.91,102.62 L493.65,103.32 L495.27,103.96 L495.40,104.01 L497.15,104.71 L498.73,105.33 L498.91,105.40 L500.67,106.09 L502.10,106.64 L502.44,106.77 L504.21,107.46 L505.41,107.92 L505.99,108.14 L507.77,108.83 L508.65,109.16 L509.56,109.51 L511.35,110.19 L511.83,110.37 L513.14,110.87 L514.95,111.54 L514.96,111.55 L516.75,112.22 L518.04,112.70 L518.56,112.89 L520.05,113.67 L520.44,114.04 L521.04,114.61 L521.80,115.35 L522.00,115.56 L522.93,116.53 L522.96,116.56 L523.80,117.51 L523.94,117.67 L524.62,118.51 L524.77,118.70 L525.37,119.53 L525.45,119.64 L525.99,120.50 L526.03,120.58 L526.41,121.29 L526.57,121.67 L526.71,122.02 L526.89,122.69 L526.92,122.82 L527.01,123.32 L527.11,123.93 L527.12,124.02 L527.18,124.53 L527.22,125.12 L527.23,125.25 L527.23,125.69 L527.21,126.24 L527.19,126.53 L527.16,126.77 L527.08,127.29 L526.97,127.79 L526.95,127.87 L526.83,128.27 L526.66,128.74 L526.46,129.19 L526.40,129.32 L526.24,129.63 L525.98,130.05 L525.70,130.46 L525.39,130.85 L525.32,130.94 L525.06,131.22 L524.70,131.59 L524.31,131.93 L523.90,132.26 L523.46,132.58 L523.00,132.89 L522.73,133.05 L522.51,133.18 L522.00,133.45 L521.46,133.72 L520.89,133.97 L520.31,134.20 L519.69,134.42 L519.05,134.63 L518.38,134.82 L517.69,134.99 L516.97,135.15 L516.21,135.29 L515.56,135.39 L515.42,135.41 L514.59,135.52 L513.74,135.60 L512.85,135.67 L511.93,135.72 L510.98,135.75 L510.56,135.76 L510.00,135.77 L508.98,135.77 L507.94,135.75 L506.88,135.70 L506.84,135.70 L505.69,135.62 L504.49,135.52 L503.79,135.44 L503.25,135.39 L501.96,135.23 L500.97,135.10 L500.63,135.05 L499.25,134.85 L498.32,134.70 L497.84,134.63 L496.40,134.38 L495.76,134.27 L494.92,134.12 L493.40,133.84 L493.28,133.82 L491.87,133.55 L490.85,133.35 L490.30,133.24 L488.72,132.92 L488.45,132.87 L487.11,132.59 L486.08,132.37 L485.50,132.25 L483.87,131.91 L483.73,131.88 L482.23,131.56 L481.38,131.38 L480.59,131.21 L479.04,130.88 L478.95,130.86 L477.31,130.50 L476.72,130.37 L475.61,130.12 L474.45,129.85 L473.85,129.71 L472.23,129.31 L471.73,129.06 L470.58,128.58 L469.28,127.74 L469.03,127.58 L467.97,126.90 L466.66,126.07 L465.35,125.23 L464.03,124.40 L462.71,123.56 L461.88,123.04 L461.38,122.73 L460.06,121.90 L458.73,121.07 L457.39,120.24 L456.06,119.41 L454.72,118.58 L453.37,117.75 L453.25,117.68 L452.03,116.93 L450.68,116.10 L449.33,115.28 L447.98,114.45 L446.63,113.63 L445.27,112.81 L443.91,111.99 L442.55,111.17 L442.31,111.03 L441.18,110.35 L439.82,109.53 L439.69,109.60 L439.06,109.96 L438.42,110.33 L437.78,110.70 L437.15,111.07 L436.51,111.44 L435.88,111.81 L435.24,112.19 L434.60,112.56 L433.97,112.93 L433.37,113.29 L433.75,113.53 L434.68,114.12 L435.98,114.96 L437.29,115.80 L438.59,116.64 L439.89,117.48 L440.24,117.71 L441.20,118.32 L442.50,119.16 L443.81,120.00 L445.11,120.84 L446.41,121.68 L446.65,121.83 L447.71,122.52 L449.01,123.36 L450.31,124.20 L451.61,125.04 L452.87,125.86 L452.91,125.88 L454.21,126.72 L455.50,127.57 L456.80,128.41 L458.09,129.25 L458.83,129.74 L459.38,130.10 L460.67,130.94 L461.96,131.78 L463.24,132.63 L464.77,133.40 L466.38,133.94 L466.67,134.04 L468.60,134.68 L468.88,134.77 L470.54,135.30 L471.27,135.54 L472.51,135.93 L473.59,136.27 L474.50,136.54 L475.82,136.95 L476.51,137.15 L477.99,137.59 L478.54,137.75 L480.08,138.20 L480.61,138.34 L482.12,138.77 L482.70,138.92 L484.10,139.30 L484.82,139.50 L486.02,139.81 L486.98,140.06 L487.89,140.29 L489.16,140.61 L489.72,140.75 L491.39,141.15 L491.49,141.17 L493.23,141.57 L493.66,141.67 L494.92,141.95 L495.97,142.18 L496.57,142.31 L498.21,142.66 L498.31,142.68 L499.84,143.01 L500.66,143.18 L501.46,143.35 L503.02,143.67 L503.07,143.68 L504.66,144.00 L505.42,144.15 L506.22,144.31 L507.77,144.61 L507.85,144.62 L509.28,144.89 L510.34,145.08 L510.76,145.15 L512.21,145.39 L512.90,145.50 L513.62,145.62 L515.00,145.82 L515.57,145.90 L516.33,146.00 L517.62,146.16 L518.40,146.24 L518.86,146.29 L520.06,146.39 L521.21,146.47 L521.52,146.48 L522.30,146.52 L523.35,146.53 L524.34,146.52 L525.28,146.49 L525.40,146.48 L526.20,146.43 L527.10,146.37 L527.98,146.30 L528.85,146.22 L529.70,146.13 L530.53,146.03 L530.70,146.01 L531.35,145.93Z" fill="#0080ff" stroke="#0080ff" stroke-width="0.4" stroke-linejoin="round" fill-rule="evenodd"/>
<path d="M516.21,135.29 L516.97,135.15 L517.69,134.99 L518.38,134.82 L519.05,134.63 L519.69,134.42 L520.31,134.20 L520.89,133.97 L521.46,133.72 L522.00,133.45 L522.51,133.18 L522.73,133.05 L523.00,132.89 L523.46,132.58 L523.90,132.26 L524.31,131.93 L524.70,131.59 L525.06,131.22 L525.32,130.94 L525.39,130.85 L525.70,130.46 L525.98,130.05 L526.24,129.63 L526.40,129.32 L526.46,129.19 L526.66,128.74 L526.83,128.27 L526.95,127.87 L526.97,127.79 L527.08,127.29 L527.16,126.77 L527.19,126.53 L527.21,126.24 L527.23,125.69 L527.23,125.25 L527.22,125.12 L527.18,124.53 L527.12,124.02 L527.11,123.93 L527.01,123.32 L526.92,122.82 L526.89,122.69 L526.71,122.02 L526.57,121.67 L526.41,121.29 L526.03,120.58 L525.99,120.50 L525.45,119.64 L525.37,119.53 L524.77,118.70 L524.62,118.51 L523.94,117.67 L523.80,117.51 L522.96,116.56 L522.93,116.53 L522.00,115.56 L521.80,115.35 L521.04,114.61 L520.44,114.04 L520.05,113.67 L518.56,112.89 L518.04,112.70 L516.75,112.22 L514.96,111.55 L514.95,111.54 L513.14,110.87 L511.83,110.37 L511.35,110.19 L509.56,109.51 L508.65,109.16 L507.77,108.83 L505.99,108.14 L505.41,107.92 L504.21,107.46 L502.44,106.77 L502.10,106.64 L500.67,106.09 L498.91,105.40 L498.73,105.33 L497.15,104.71 L495.40,104.01 L495.27,103.96 L493.65,103.32 L491.91,102.62 L491.70,102.54 L490.17,101.92 L488.44,101.22 L488.01,101.05 L486.73,100.52 L485.03,99.81 L483.99,99.37 L483.34,99.10 L481.67,98.38 L480.01,97.65 L479.43,97.40 L478.37,96.92 L477.87,96.98 L477.23,97.04 L476.59,97.11 L475.96,97.17 L475.32,97.23 L474.69,97.30 L474.05,97.37 L473.41,97.44 L472.78,97.52 L472.14,97.61 L471.50,97.70 L470.87,97.80 L470.37,97.89 L471.88,98.66 L473.39,99.44 L474.90,100.21 L476.42,100.98 L477.94,101.75 L479.46,102.51 L479.51,102.54 L480.98,103.28 L482.50,104.05 L484.03,104.82 L485.56,105.58 L487.09,106.35 L488.63,107.11 L489.58,107.58 L490.17,107.87 L491.71,108.63 L493.26,109.39 L494.81,110.15 L496.37,110.91 L497.78,111.58 L497.94,111.66 L499.51,112.41 L501.09,113.16 L502.68,113.91 L504.29,114.65 L504.35,114.67 L505.90,115.39 L506.44,115.81 L506.97,116.30 L507.05,116.74 L507.12,117.34 L507.13,117.52 L507.15,117.92 L507.13,118.48 L507.11,118.79 L507.08,119.01 L506.99,119.52 L506.86,120.01 L506.82,120.15 L506.70,120.48 L506.49,120.93 L506.24,121.35 L506.01,121.68 L505.96,121.76 L505.64,122.14 L505.28,122.50 L504.88,122.84 L504.44,123.16 L503.97,123.46 L503.46,123.74 L503.14,123.88 L502.90,123.99 L502.31,124.22 L501.68,124.43 L501.00,124.62 L500.69,124.68 L500.27,124.77 L499.49,124.90 L498.66,125.00 L497.78,125.07 L496.85,125.12 L495.88,125.14 L495.43,125.14 L494.86,125.13 L493.79,125.10 L492.69,125.05 L491.98,125.00 L491.53,124.97 L490.33,124.86 L489.07,124.73 L488.98,124.71 L487.78,124.57 L486.44,124.38 L486.22,124.35 L485.06,124.18 L483.64,123.95 L483.60,123.94 L481.72,123.29 L480.28,122.50 L478.84,121.70 L477.39,120.91 L475.95,120.12 L474.51,119.32 L473.07,118.53 L471.62,117.73 L470.18,116.94 L468.74,116.15 L467.30,115.35 L465.85,114.56 L464.41,113.76 L462.97,112.97 L461.52,112.18 L460.08,111.38 L458.64,110.59 L457.74,110.10 L457.19,109.80 L455.75,109.00 L454.31,108.21 L452.86,107.41 L451.42,106.62 L449.98,105.83 L448.53,105.03 L447.96,105.29 L447.33,105.58 L446.69,105.88 L446.06,106.19 L445.42,106.51 L444.78,106.83 L444.15,107.16 L443.51,107.49 L442.87,107.83 L442.24,108.18 L441.60,108.53 L440.97,108.88 L440.33,109.24 L439.82,109.53 L441.18,110.35 L442.31,111.03 L442.55,111.17 L443.91,111.99 L445.27,112.81 L446.63,113.63 L447.98,114.45 L449.33,115.28 L450.68,116.10 L452.03,116.93 L453.25,117.68 L453.37,117.75 L454.72,118.58 L456.06,119.41 L457.39,120.24 L458.73,121.07 L460.06,121.90 L461.38,122.73 L461.88,123.04 L462.71,123.56 L464.03,124.40 L465.35,125.23 L466.66,126.07 L467.97,126.90 L469.03,127.58 L469.28,127.74 L470.58,128.58 L471.73,129.06 L472.23,129.31 L473.85,129.71 L474.45,129.85 L475.61,130.12 L476.72,130.37 L477.31,130.50 L478.95,130.86 L479.04,130.88 L480.59,131.21 L481.38,131.38 L482.23,131.56 L483.73,131.88 L483.87,131.91 L485.50,132.25 L486.08,132.37 L487.11,132.59 L488.45,132.87 L488.72,132.92 L490.30,133.24 L490.85,133.35 L491.87,133.55 L493.28,133.82 L493.40,133.84 L494.92,134.12 L495.76,134.27 L496.40,134.38 L497.84,134.63 L498.32,134.70 L499.25,134.85 L500.63,135.05 L500.97,135.10 L501.96,135.23 L503.25,135.39 L503.79,135.44 L504.49,135.52 L505.69,135.62 L506.84,135.70 L506.88,135.70 L507.94,135.75 L508.98,135.77 L510.00,135.77 L510.56,135.76 L510.98,135.75 L511.93,135.72 L512.85,135.67 L513.74,135.60 L514.59,135.52 L515.42,135.41 L515.56,135.39 L516.21,135.29Z" fill="#008fff" stroke="#008fff" stroke-width="0.4" stroke-linejoin="round" fill-rule="evenodd"/>
<path d="M501.00,124.62 L501.68,124.43 L502.31,124.22 L502.90,123.99 L503.14,123.88 L503.46,123.74 L503.97,123.46 L504.44,123.16 L504.88,122.84 L505.28,122.50 L505.64,122.14 L505.96,121.76 L506.01,121.68 L506.24,121.35 L506.49,120.93 L506.70,120.48 L506.82,120.15 L506.86,120.01 L506.99,119.52 L507.08,119.01 L507.11,118.79 L507.13,118.48 L507.15,117.92 L507.13,117.52 L507.12,117.34 L507.05,116.74 L506.97,116.30 L506.44,115.81 L505.90,115.39 L504.35,114.67 L504.29,114.65 L502.68,113.91 L501.09,113.16 L499.51,112.41 L497.94,111.66 L497.78,111.58 L496.37,110.91 L494.81,110.15 L493.26,109.39 L491.71,108.63 L490.17,107.87 L489.58,107.58 L488.63,107.11 L487.09,106.35 L485.56,105.58 L484.03,104.82 L482.50,104.05 L480.98,103.28 L479.51,102.54 L479.46,102.51 L477.94,101.75 L476.42,100.98 L474.90,100.21 L473.39,99.44 L471.88,98.66 L470.37,97.89 L470.23,97.92 L469.60,98.04 L468.96,98.18 L468.32,98.33 L467.69,98.50 L467.05,98.69 L466.41,98.89 L465.78,99.10 L465.14,99.31 L464.51,99.52 L463.87,99.72 L463.23,99.93 L462.60,100.14 L461.96,100.35 L461.32,100.56 L460.69,100.76 L460.05,100.97 L459.42,101.18 L458.78,101.39 L458.14,101.60 L457.51,101.80 L456.87,102.01 L456.24,102.22 L455.60,102.43 L454.96,102.64 L454.33,102.84 L453.69,103.05 L453.05,103.26 L452.42,103.48 L451.78,103.71 L451.15,103.95 L450.51,104.20 L449.87,104.46 L449.24,104.72 L448.60,105.00 L448.53,105.03 L449.98,105.83 L451.42,106.62 L452.86,107.41 L454.31,108.21 L455.75,109.00 L457.19,109.80 L457.74,110.10 L458.64,110.59 L460.08,111.38 L461.52,112.18 L462.97,112.97 L464.41,113.76 L465.85,114.56 L467.30,115.35 L468.74,116.15 L470.18,116.94 L471.62,117.73 L473.07,118.53 L474.51,119.32 L475.95,120.12 L477.39,120.91 L478.84,121.70 L480.28,122.50 L481.72,123.29 L483.60,123.94 L483.64,123.95 L485.06,124.18 L486.22,124.35 L486.44,124.38 L487.78,124.57 L488.98,124.71 L489.07,124.73 L490.33,124.86 L491.53,124.97 L491.98,125.00 L492.69,125.05 L493.79,125.10 L494.86,125.13 L495.43,125.14 L495.88,125.14 L496.85,125.12 L497.78,125.07 L498.66,125.00 L499.49,124.90 L500.27,124.77 L500.69,124.68 L501.00,124.62Z" fill="#009fff" stroke="#009fff" stroke-width="0.4" stroke-linejoin="round" fill-rule="evenodd"/>
<polygon points="483.95,182.86 433.23,158.00 433.45,157.93 484.16,182.79" fill="#0010ff" stroke="#0010ff" stroke-width="0.35"/>
<polygon points="433.23,158.00 399.43,146.32 399.64,146.67 433.45,157.93" fill="#0000ef" stroke="#0000ef" stroke-width="0.35"/>
<polygon points="483.73,182.93 433.02,158.07 433.23,158.00 483.95,182.86" fill="#0010ff" stroke="#0010ff" stroke-width="0.35"/>
<polygon points="433.02,158.07 399.21,145.89 399.43,146.32 433.23,158.00" fill="#0000ef" stroke="#0000ef" stroke-width="0.35"/>
<polygon points="483.52,182.99 432.81,158.14 433.02,158.07 483.73,182.93" fill="#0010ff" stroke="#0010ff" stroke-width="0.35"/>
<polygon points="432.81,158.14 399.00,145.37 399.21,145.89 433.02,158.07" fill="#0000ef" stroke="#0000ef" stroke-width="0.35"/>
<polygon points="483.31,183.06 432.60,158.21 432.81,158.14 483.52,182.99" fill="#0010ff" stroke="#0010ff" stroke-width="0.35"/>
<polygon points="432.60,158.21 398.79,144.73 399.00,145.37 432.81,158.14" fill="#0000ef" stroke="#0000ef" stroke-width="0.35"/>
<polygon points="483.10,183.13 432.39,158.28 432.60,158.21 483.31,183.06" fill="#0010ff" stroke="#0010ff" stroke-width="0.35"/>
<polygon points="432.39,158.28 398.58,143.95 398.79,144.73 432.60,158.21" fill="#0000ef" stroke="#0000ef" stroke-width="0.35"/>
<polygon points="482.89,183.20 432.17,158.35 432.39,158.28 483.10,183.13" fill="#0010ff" stroke="#0010ff" stroke-width="0.35"/>
<polygon points="432.17,158.35 398.36,143.01 398.58,143.95 432.39,158.28" fill="#0000ef" stroke="#0000ef" stroke-width="0.35"/>
<polygon points="482.67,183.27 431.96,158.42 432.17,158.35 482.89,183.20" fill="#0010ff" stroke="#0010ff" stroke-width="0.35"/>
<polygon points="431.96,158.42 398.15,141.88 398.36,143.01 432.17,158.35" fill="#0000ef" stroke="#0000ef" stroke-width="0.35"/>
<polygon points="482.46,181.81 431.75,158.49 431.96,158.42 482.67,183.27" fill="#0010ff" stroke="#0010ff" stroke-width="0.35"/>
<polygon points="431.75,158.49 397.94,140.51 398.15,141.88 431.96,158.42" fill="#0000ef" stroke="#0000ef" stroke-width="0.35"/>
<polygon points="482.25,179.43 431.54,158.56 431.75,158.49 482.46,181.81" fill="#0030ff" stroke="#0030ff" stroke-width="0.35"/>
<polygon points="431.54,158.56 397.73,138.87 397.94,140.51 431.75,158.49" fill="#0000ef" stroke="#0000ef" stroke-width="0.35"/>
<polygon points="482.04,176.43 431.32,158.63 431.54,158.56 482.25,179.43" fill="#0050ff" stroke="#0050ff" stroke-width="0.35"/>
<polygon points="431.32,158.63 397.52,136.90 397.73,138.87 431.54,158.56" fill="#0000ef" stroke="#0000ef" stroke-width="0.35"/>
<polygon points="481.82,173.54 431.11,158.39 431.32,158.63 482.04,176.43" fill="#0070ff" stroke="#0070ff" stroke-width="0.35"/>
<polygon points="431.11,158.39 397.30,134.53 397.52,136.90 431.32,158.63" fill="#0000ef" stroke="#0000ef" stroke-width="0.35"/>
<polygon points="481.61,170.03 430.90,157.74 431.11,158.39 481.82,173.54" fill="#008fff" stroke="#008fff" stroke-width="0.35"/>
<polygon points="430.90,157.74 397.09,131.68 397.30,134.53 431.11,158.39" fill="#0000ef" stroke="#0000ef" stroke-width="0.35"/>
<polygon points="481.40,166.63 430.69,156.79 430.90,157.74 481.61,170.03" fill="#00afff" stroke="#00afff" stroke-width="0.35"/>
<polygon points="430.69,156.79 396.88,128.28 397.09,131.68 430.90,157.74" fill="#0000ff" stroke="#0000ff" stroke-width="0.35"/>
<polygon points="481.19,163.73 430.48,155.33 430.69,156.79 481.40,166.63" fill="#00cfff" stroke="#00cfff" stroke-width="0.35"/>
<polygon points="430.48,155.33 396.67,124.20 396.88,128.28 430.69,156.79" fill="#0010ff" stroke="#0010ff" stroke-width="0.35"/>
<polygon points="480.98,161.15 430.26,152.33 430.48,155.33 481.19,163.73" fill="#00dfff" stroke="#00dfff" stroke-width="0.35"/>
<polygon points="430.26,152.33 396.46,119.32 396.67,124.20 430.48,155.33" fill="#0030ff" stroke="#0030ff" stroke-width="0.35"/>
<polygon points="480.76,156.82 430.05,148.32 430.26,152.33 480.98,161.15" fill="#10ffef" stroke="#10ffef" stroke-width="0.35"/>
<polygon points="430.05,148.32 396.24,113.49 396.46,119.32 430.26,152.33" fill="#0050ff" stroke="#0050ff" stroke-width="0.35"/>
<polygon points="480.55,152.60 429.84,142.77 430.05,148.32 480.76,156.82" fill="#40ffbf" stroke="#40ffbf" stroke-width="0.35"/>
<polygon points="429.84,142.77 396.03,106.51 396.24,113.49 430.05,148.32" fill="#0080ff" stroke="#0080ff" stroke-width="0.35"/>
<polygon points="480.34,147.36 429.63,135.17 429.84,142.77 480.55,152.60" fill="#70ff8f" stroke="#70ff8f" stroke-width="0.35"/>
<polygon points="429.63,135.17 395.82,98.18 396.03,106.51 429.84,142.77" fill="#00cfff" stroke="#00cfff" stroke-width="0.35"/>
<polygon points="480.13,141.50 429.42,126.05 429.63,135.17 480.34,147.36" fill="#9fff60" stroke="#9fff60" stroke-width="0.35"/>
<polygon points="429.42,126.05 395.61,88.21 395.82,98.18 429.63,135.17" fill="#30ffcf" stroke="#30ffcf" stroke-width="0.35"/>
<polygon points="479.92,128.39 429.20,114.88 429.42,126.05 480.13,141.50" fill="#ffdf00" stroke="#ffdf00" stroke-width="0.35"/>
<polygon points="429.20,114.88 395.39,76.31 395.61,88.21 429.42,126.05" fill="#8fff70" stroke="#8fff70" stroke-width="0.35"/>
<polygon points="479.70,109.35 428.99,96.56 429.20,114.88 479.92,128.39" fill="#ff2000" stroke="#ff2000" stroke-width="0.35"/>
<polygon points="428.99,96.56 395.18,62.09 395.39,76.31 429.20,114.88" fill="#ffaf00" stroke="#ffaf00" stroke-width="0.35"/>
<polygon points="479.49,92.16 428.78,63.93 428.99,96.56 479.70,109.35" fill="#800000" stroke="#800000" stroke-width="0.35"/>
<polygon points="428.78,63.93 394.97,45.12 395.18,62.09 428.99,96.56" fill="#800000" stroke="#800000" stroke-width="0.35"/>
<line x1="393.64" y1="168.15" x2="393.64" y2="45.55" stroke="#4a4a4a" stroke-width="0.60"/>
<line x1="495.07" y1="224.60" x2="393.64" y2="168.15" stroke="#4a4a4a" stroke-width="0.60"/>
<line x1="495.07" y1="224.60" x2="627.64" y2="181.25" stroke="#4a4a4a" stroke-width="0.60"/>
<line x1="393.64" y1="168.15" x2="390.64" y2="167.25" stroke="#4a4a4a" stroke-width="0.60"/>
<text x="387.14" y="168.56" font-size="8.40" text-anchor="end" fill="#303030">12.8</text>
<line x1="393.64" y1="147.72" x2="390.64" y2="146.82" stroke="#4a4a4a" stroke-width="0.60"/>
<text x="387.14" y="148.12" font-size="8.40" text-anchor="end" fill="#303030">13</text>
<line x1="393.64" y1="127.28" x2="390.64" y2="126.38" stroke="#4a4a4a" stroke-width="0.60"/>
<text x="387.14" y="127.69" font-size="8.40" text-anchor="end" fill="#303030">13.2</text>
<line x1="393.64" y1="106.85" x2="390.64" y2="105.95" stroke="#4a4a4a" stroke-width="0.60"/>
<text x="387.14" y="107.26" font-size="8.40" text-anchor="end" fill="#303030">13.4</text>
<line x1="393.64" y1="86.42" x2="390.64" y2="85.52" stroke="#4a4a4a" stroke-width="0.60"/>
<text x="387.14" y="86.82" font-size="8.40" text-anchor="end" fill="#303030">13.6</text>
<line x1="393.64" y1="65.98" x2="390.64" y2="65.08" stroke="#4a4a4a" stroke-width="0.60"/>
<text x="387.14" y="66.39" font-size="8.40" text-anchor="end" fill="#303030">13.8</text>
<line x1="393.64" y1="45.55" x2="390.64" y2="44.65" stroke="#4a4a4a" stroke-width="0.60"/>
<text x="387.14" y="45.96" font-size="8.40" text-anchor="end" fill="#303030">14</text>
<line x1="495.07" y1="224.60" x2="491.93" y2="225.63" stroke="#4a4a4a" stroke-width="0.60"/>
<text x="488.27" y="235.61" font-size="8.40" text-anchor="end" fill="#303030">0.4</text>
<line x1="461.26" y1="205.78" x2="458.13" y2="206.81" stroke="#4a4a4a" stroke-width="0.60"/>
<text x="454.46" y="216.79" font-size="8.40" text-anchor="end" fill="#303030">0.6</text>
<line x1="427.45" y1="186.97" x2="424.32" y2="187.99" stroke="#4a4a4a" stroke-width="0.60"/>
<text x="420.65" y="197.97" font-size="8.40" text-anchor="end" fill="#303030">0.8</text>
<line x1="393.64" y1="168.15" x2="390.51" y2="169.18" stroke="#4a4a4a" stroke-width="0.60"/>
<text x="386.84" y="179.16" font-size="8.40" text-anchor="end" fill="#303030">1</text>
<line x1="495.07" y1="224.60" x2="498.13" y2="226.30" stroke="#4a4a4a" stroke-width="0.60"/>
<text x="501.67" y="237.01" font-size="8.40" text-anchor="start" fill="#303030">0</text>
<line x1="561.36" y1="202.92" x2="564.42" y2="204.63" stroke="#4a4a4a" stroke-width="0.60"/>
<text x="567.96" y="215.33" font-size="8.40" text-anchor="start" fill="#303030">5</text>
<line x1="627.64" y1="181.25" x2="630.70" y2="182.95" stroke="#4a4a4a" stroke-width="0.60"/>
<text x="634.25" y="193.66" font-size="8.40" text-anchor="start" fill="#303030">10</text>
<text x="210.80" y="238.90" font-size="9.70" text-anchor="middle" fill="#303030">Time</text>
<text x="562.60" y="238.30" font-size="9.70" text-anchor="middle" fill="#303030">Time</text>
<text x="85.40" y="235.30" font-size="9.20" text-anchor="middle" fill="#444" font-style="italic" font-family="Liberation Serif, serif">&#963;</text>
<text x="441.00" y="235.50" font-size="9.20" text-anchor="middle" fill="#444" font-style="italic" font-family="Liberation Serif, serif">&#963;</text>
<text transform="translate(8.90 107.90) rotate(-90)" font-size="10" text-anchor="middle" fill="#262626">F<tspan font-size="6.5" dy="3.8">N</tspan><tspan dy="-3.8">(t)</tspan></text>
<text transform="translate(360.60 107.90) rotate(-90)" font-size="10" text-anchor="middle" fill="#262626">F<tspan font-size="6.5" dy="3.8">N</tspan><tspan dy="-3.8">(t)</tspan></text>
<defs><linearGradient id="cb1" x1="0" y1="0" x2="0" y2="1"><stop offset="0.0078" stop-color="#800000"/><stop offset="0.0234" stop-color="#8f0000"/><stop offset="0.0391" stop-color="#9f0000"/><stop offset="0.0547" stop-color="#af0000"/><stop offset="0.0703" stop-color="#bf0000"/><stop offset="0.0859" stop-color="#cf0000"/><stop offset="0.1016" stop-color="#df0000"/><stop offset="0.1172" stop-color="#ef0000"/><stop offset="0.1328" stop-color="#ff0000"/><stop offset="0.1484" stop-color="#ff1000"/><stop offset="0.1641" stop-color="#ff2000"/><stop offset="0.1797" stop-color="#ff3000"/><stop offset="0.1953" stop-color="#ff4000"/><stop offset="0.2109" stop-color="#ff5000"/><stop offset="0.2266" stop-color="#ff6000"/><stop offset="0.2422" stop-color="#ff7000"/><stop offset="0.2578" stop-color="#ff8000"/><stop offset="0.2734" stop-color="#ff8f00"/><stop offset="0.2891" stop-color="#ff9f00"/><stop offset="0.3047" stop-color="#ffaf00"/><stop offset="0.3203" stop-color="#ffbf00"/><stop offset="0.3359" stop-color="#ffcf00"/><stop offset="0.3516" stop-color="#ffdf00"/><stop offset="0.3672" stop-color="#ffef00"/><stop offset="0.3828" stop-color="#ffff00"/><stop offset="0.3984" stop-color="#efff10"/><stop offset="0.4141" stop-color="#dfff20"/><stop offset="0.4297" stop-color="#cfff30"/><stop offset="0.4453" stop-color="#bfff40"/><stop offset="0.4609" stop-color="#afff50"/><stop offset="0.4766" stop-color="#9fff60"/><stop offset="0.4922" stop-color="#8fff70"/><stop offset="0.5078" stop-color="#80ff80"/><stop offset="0.5234" stop-color="#70ff8f"/><stop offset="0.5391" stop-color="#60ff9f"/><stop offset="0.5547" stop-color="#50ffaf"/><stop offset="0.5703" stop-color="#40ffbf"/><stop offset="0.5859" stop-color="#30ffcf"/><stop offset="0.6016" stop-color="#20ffdf"/><stop offset="0.6172" stop-color="#10ffef"/><stop offset="0.6328" stop-color="#00ffff"/><stop offset="0.6484" stop-color="#00efff"/><stop offset="0.6641" stop-color="#00dfff"/><stop offset="0.6797" stop-color="#00cfff"/><stop offset="0.6953" stop-color="#00bfff"/><stop offset="0.7109" stop-color="#00afff"/><stop offset="0.7266" stop-color="#009fff"/><stop offset="0.7422" stop-color="#008fff"/><stop offset="0.7578" stop-color="#0080ff"/><stop offset="0.7734" stop-color="#0070ff"/><stop offset="0.7891" stop-color="#0060ff"/><stop offset="0.8047" stop-color="#0050ff"/><stop offset="0.8203" stop-color="#0040ff"/><stop offset="0.8359" stop-color="#0030ff"/><stop offset="0.8516" stop-color="#0020ff"/><stop offset="0.8672" stop-color="#0010ff"/><stop offset="0.8828" stop-color="#0000ff"/><stop offset="0.8984" stop-color="#0000ef"/><stop offset="0.9141" stop-color="#0000df"/><stop offset="0.9297" stop-color="#0000cf"/><stop offset="0.9453" stop-color="#0000bf"/><stop offset="0.9609" stop-color="#0000af"/><stop offset="0.9766" stop-color="#00009f"/><stop offset="0.9922" stop-color="#00008f"/></linearGradient></defs>
<rect x="300.00" y="2.50" width="12.90" height="222.20" fill="url(#cb1)" stroke="#666" stroke-width="0.5"/>
<line x1="311.10" y1="211.91" x2="312.90" y2="211.91" stroke="#333" stroke-width="0.60"/>
<text x="317.30" y="215.41" font-size="8.40" text-anchor="start" fill="#303030">0.2</text>
<line x1="311.10" y1="189.46" x2="312.90" y2="189.46" stroke="#333" stroke-width="0.60"/>
<text x="317.30" y="192.96" font-size="8.40" text-anchor="start" fill="#303030">0.3</text>
<line x1="311.10" y1="167.02" x2="312.90" y2="167.02" stroke="#333" stroke-width="0.60"/>
<text x="317.30" y="170.52" font-size="8.40" text-anchor="start" fill="#303030">0.4</text>
<line x1="311.10" y1="144.57" x2="312.90" y2="144.57" stroke="#333" stroke-width="0.60"/>
<text x="317.30" y="148.07" font-size="8.40" text-anchor="start" fill="#303030">0.5</text>
<line x1="311.10" y1="122.13" x2="312.90" y2="122.13" stroke="#333" stroke-width="0.60"/>
<text x="317.30" y="125.63" font-size="8.40" text-anchor="start" fill="#303030">0.6</text>
<line x1="311.10" y1="99.68" x2="312.90" y2="99.68" stroke="#333" stroke-width="0.60"/>
<text x="317.30" y="103.18" font-size="8.40" text-anchor="start" fill="#303030">0.7</text>
<line x1="311.10" y1="77.24" x2="312.90" y2="77.24" stroke="#333" stroke-width="0.60"/>
<text x="317.30" y="80.74" font-size="8.40" text-anchor="start" fill="#303030">0.8</text>
<line x1="311.10" y1="54.80" x2="312.90" y2="54.80" stroke="#333" stroke-width="0.60"/>
<text x="317.30" y="58.30" font-size="8.40" text-anchor="start" fill="#303030">0.9</text>
<line x1="311.10" y1="32.35" x2="312.90" y2="32.35" stroke="#333" stroke-width="0.60"/>
<text x="317.30" y="35.85" font-size="8.40" text-anchor="start" fill="#303030">1</text>
<line x1="311.10" y1="9.91" x2="312.90" y2="9.91" stroke="#333" stroke-width="0.60"/>
<text x="317.30" y="13.41" font-size="8.40" text-anchor="start" fill="#303030">1.1</text>
<defs><linearGradient id="cb2" x1="0" y1="0" x2="0" y2="1"><stop offset="0.0078" stop-color="#800000"/><stop offset="0.0234" stop-color="#8f0000"/><stop offset="0.0391" stop-color="#9f0000"/><stop offset="0.0547" stop-color="#af0000"/><stop offset="0.0703" stop-color="#bf0000"/><stop offset="0.0859" stop-color="#cf0000"/><stop offset="0.1016" stop-color="#df0000"/><stop offset="0.1172" stop-color="#ef0000"/><stop offset="0.1328" stop-color="#ff0000"/><stop offset="0.1484" stop-color="#ff1000"/><stop offset="0.1641" stop-color="#ff2000"/><stop offset="0.1797" stop-color="#ff3000"/><stop offset="0.1953" stop-color="#ff4000"/><stop offset="0.2109" stop-color="#ff5000"/><stop offset="0.2266" stop-color="#ff6000"/><stop offset="0.2422" stop-color="#ff7000"/><stop offset="0.2578" stop-color="#ff8000"/><stop offset="0.2734" stop-color="#ff8f00"/><stop offset="0.2891" stop-color="#ff9f00"/><stop offset="0.3047" stop-color="#ffaf00"/><stop offset="0.3203" stop-color="#ffbf00"/><stop offset="0.3359" stop-color="#ffcf00"/><stop offset="0.3516" stop-color="#ffdf00"/><stop offset="0.3672" stop-color="#ffef00"/><stop offset="0.3828" stop-color="#ffff00"/><stop offset="0.3984" stop-color="#efff10"/><stop offset="0.4141" stop-color="#dfff20"/><stop offset="0.4297" stop-color="#cfff30"/><stop offset="0.4453" stop-color="#bfff40"/><stop offset="0.4609" stop-color="#afff50"/><stop offset="0.4766" stop-color="#9fff60"/><stop offset="0.4922" stop-color="#8fff70"/><stop offset="0.5078" stop-color="#80ff80"/><stop offset="0.5234" stop-color="#70ff8f"/><stop offset="0.5391" stop-color="#60ff9f"/><stop offset="0.5547" stop-color="#50ffaf"/><stop offset="0.5703" stop-color="#40ffbf"/><stop offset="0.5859" stop-color="#30ffcf"/><stop offset="0.6016" stop-color="#20ffdf"/><stop offset="0.6172" stop-color="#10ffef"/><stop offset="0.6328" stop-color="#00ffff"/><stop offset="0.6484" stop-color="#00efff"/><stop offset="0.6641" stop-color="#00dfff"/><stop offset="0.6797" stop-color="#00cfff"/><stop offset="0.6953" stop-color="#00bfff"/><stop offset="0.7109" stop-color="#00afff"/><stop offset="0.7266" stop-color="#009fff"/><stop offset="0.7422" stop-color="#008fff"/><stop offset="0.7578" stop-color="#0080ff"/><stop offset="0.7734" stop-color="#0070ff"/><stop offset="0.7891" stop-color="#0060ff"/><stop offset="0.8047" stop-color="#0050ff"/><stop offset="0.8203" stop-color="#0040ff"/><stop offset="0.8359" stop-color="#0030ff"/><stop offset="0.8516" stop-color="#0020ff"/><stop offset="0.8672" stop-color="#0010ff"/><stop offset="0.8828" stop-color="#0000ff"/><stop offset="0.8984" stop-color="#0000ef"/><stop offset="0.9141" stop-color="#0000df"/><stop offset="0.9297" stop-color="#0000cf"/><stop offset="0.9453" stop-color="#0000bf"/><stop offset="0.9609" stop-color="#0000af"/><stop offset="0.9766" stop-color="#00009f"/><stop offset="0.9922" stop-color="#00008f"/></linearGradient></defs>
<rect x="652.50" y="2.50" width="13.50" height="222.20" fill="url(#cb2)" stroke="#666" stroke-width="0.5"/>
<line x1="664.20" y1="217.81" x2="666.00" y2="217.81" stroke="#333" stroke-width="0.60"/>
<text x="670.50" y="221.31" font-size="8.40" text-anchor="start" fill="#303030">13</text>
<line x1="664.20" y1="196.28" x2="666.00" y2="196.28" stroke="#333" stroke-width="0.60"/>
<text x="670.50" y="199.78" font-size="8.40" text-anchor="start" fill="#303030">13.1</text>
<line x1="664.20" y1="174.75" x2="666.00" y2="174.75" stroke="#333" stroke-width="0.60"/>
<text x="670.50" y="178.25" font-size="8.40" text-anchor="start" fill="#303030">13.2</text>
<line x1="664.20" y1="153.22" x2="666.00" y2="153.22" stroke="#333" stroke-width="0.60"/>
<text x="670.50" y="156.72" font-size="8.40" text-anchor="start" fill="#303030">13.3</text>
<line x1="664.20" y1="131.69" x2="666.00" y2="131.69" stroke="#333" stroke-width="0.60"/>
<text x="670.50" y="135.19" font-size="8.40" text-anchor="start" fill="#303030">13.4</text>
<line x1="664.20" y1="110.16" x2="666.00" y2="110.16" stroke="#333" stroke-width="0.60"/>
<text x="670.50" y="113.66" font-size="8.40" text-anchor="start" fill="#303030">13.5</text>
<line x1="664.20" y1="88.62" x2="666.00" y2="88.62" stroke="#333" stroke-width="0.60"/>
<text x="670.50" y="92.12" font-size="8.40" text-anchor="start" fill="#303030">13.6</text>
<line x1="664.20" y1="67.09" x2="666.00" y2="67.09" stroke="#333" stroke-width="0.60"/>
<text x="670.50" y="70.59" font-size="8.40" text-anchor="start" fill="#303030">13.7</text>
<line x1="664.20" y1="45.56" x2="666.00" y2="45.56" stroke="#333" stroke-width="0.60"/>
<text x="670.50" y="49.06" font-size="8.40" text-anchor="start" fill="#303030">13.8</text>
<line x1="664.20" y1="24.03" x2="666.00" y2="24.03" stroke="#333" stroke-width="0.60"/>
<text x="670.50" y="27.53" font-size="8.40" text-anchor="start" fill="#303030">13.9</text>
<line x1="664.20" y1="2.50" x2="666.00" y2="2.50" stroke="#333" stroke-width="0.60"/>
<text x="670.50" y="6.00" font-size="8.40" text-anchor="start" fill="#303030">14</text>
<text x="142.8" y="276" font-size="14.7" text-anchor="middle" fill="#000" font-family="Liberation Serif, serif">(a)</text>
<text x="518" y="276" font-size="14.7" text-anchor="middle" fill="#000" font-family="Liberation Serif, serif">(b)</text></svg></body></html>
